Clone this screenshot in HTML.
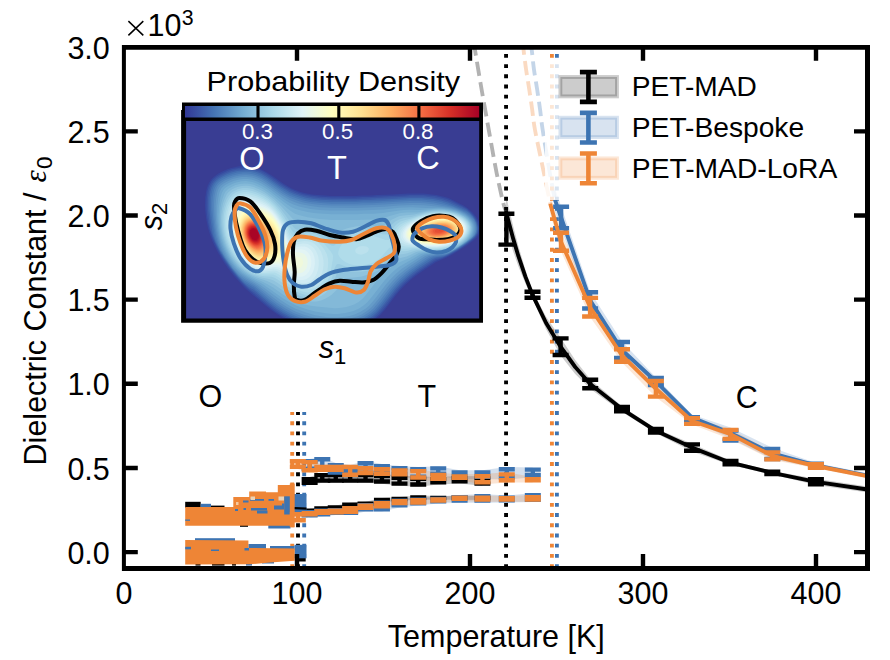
<!DOCTYPE html>
<html><head><meta charset="utf-8"><title>Dielectric constant</title>
<style>
html,body{margin:0;padding:0;background:#fff;}
body{width:890px;height:660px;overflow:hidden;font-family:"Liberation Sans", sans-serif;}
svg{display:block;}
text{font-family:"Liberation Sans", sans-serif;}
</style></head><body>
<svg width="890" height="660" viewBox="0 0 890 660">
<rect x="0" y="0" width="890" height="660" fill="#ffffff"/>
<defs><clipPath id="axclip"><rect x="124.0" y="47.3" width="743.5" height="521.3000000000001"/></clipPath></defs>
<g clip-path="url(#axclip)">
<path d="M505.9 210.7C505.47 209.47 504.83 209.53 503.3 203.3C501.77 197.07 498.92 184.4 496.7 173.3C494.48 162.2 492.5 150.58 490 136.7C487.5 122.82 484.2 104.45 481.7 90C479.2 75.55 476.45 59 475 50C473.55 41 473.33 38.33 473 36" stroke="#000" stroke-opacity="0.3" stroke-width="3.86" fill="none" stroke-dasharray="14.3 6.2" stroke-dashoffset="6.1"/>
<path d="M554.9 199.6C553.97 194.67 551.33 181.6 549.3 170C547.27 158.4 544.25 140.17 542.7 130C541.15 119.83 540.95 115.92 540 109C539.05 102.08 538.02 95.17 537 88.5C535.98 81.83 534.77 75.37 533.9 69C533.03 62.63 532.4 55.47 531.8 50.3C531.2 45.13 530.55 40.05 530.3 38" stroke="#3d74b2" stroke-opacity="0.3" stroke-width="3.86" fill="none" stroke-dasharray="14.3 6.2" stroke-dashoffset="-2.7"/>
<path d="M550.2 203.8C549.05 198.17 545.83 182.3 543.3 170C540.77 157.7 536.87 140.17 535 130C533.13 119.83 533.08 115.92 532.1 109C531.12 102.08 530.12 95.17 529.1 88.5C528.08 81.83 526.92 75.37 526 69C525.08 62.63 524.27 55.47 523.6 50.3C522.93 45.13 522.27 40.05 522 38" stroke="#ee8536" stroke-opacity="0.3" stroke-width="3.86" fill="none" stroke-dasharray="14.3 6.2" stroke-dashoffset="-7.7"/>
<path d="M506.06 568V40" stroke="#000000" stroke-width="3.86" stroke-dasharray="3.86 6.344" fill="none"/>
<path d="M556.9 568V40" stroke="#3d74b2" stroke-width="3.86" stroke-dasharray="3.86 6.344" fill="none"/>
<path d="M551.9 568V40" stroke="#ee8536" stroke-width="3.86" stroke-dasharray="3.86 6.344" fill="none"/>
<path d="M298 568V411.9" stroke="#000000" stroke-width="3.86" stroke-dasharray="3.86 6.344" fill="none"/>
<path d="M304.2 568V411.9" stroke="#3d74b2" stroke-width="3.86" stroke-dasharray="3.86 6.344" fill="none"/>
<path d="M292.2 568V411.9" stroke="#ee8536" stroke-width="3.86" stroke-dasharray="3.86 6.344" fill="none"/>
<polygon points="505.9,194.7 508.9,207.89 513.25,226.15 518.4,245.9 525.4,269.63 532.5,291.2 546.1,316.83 560.6,337.8 575.2,360.12 590.2,379.2 622,406.3 655.9,428.4 692,443.8 730.5,460.4 772.3,471 815.9,478.7 867.5,486.4 867.5,492.6 815.9,484.9 772.3,474.6 730.5,465 692,451.4 655.9,433.2 622,411.9 590.2,388.8 575.2,373.88 560.6,355.6 546.1,329.17 532.5,298.4 525.4,283.57 518.4,266.5 513.25,251.65 508.9,237.51 505.9,226.7" fill="#000000" fill-opacity="0.2"/>
<polygon points="554.9,188.3 561.1,206.2 590.1,291.7 622,341.4 655.9,377.4 692,414.4 730.5,427.4 772.3,447.8 815.9,463 867.5,473.2 867.5,478 815.9,467.8 772.3,459 730.5,438.6 692,420.6 655.9,385.6 622,358.6 590.1,309.1 561.1,228.8 554.9,210.9" fill="#3d74b2" fill-opacity="0.2"/>
<polygon points="550.2,194.2 561,232.1 590.1,297.3 622,348.6 655.9,380.4 692,417.5 730.5,429 772.3,451.8 815.9,463.7 867.5,473.9 867.5,478.5 815.9,468.3 772.3,460 730.5,439.2 692,424.5 655.9,397.2 622,362.4 590.1,317.1 561,251.3 550.2,213.4" fill="#ee8536" fill-opacity="0.2"/>
<polygon points="309.64,477 322.27,472.9 335.75,472.9 350.15,472.9 365.53,472.9 381.95,473.8 399.49,475.7 418.22,476.6 438.23,477 459.6,476 482.42,476.2 482.42,485.7 459.6,483.4 438.23,484.4 418.22,486.7 399.49,485.8 381.95,483.7 365.53,482.8 350.15,482.8 335.75,482.8 322.27,482.8 309.64,485" fill="#000000" fill-opacity="0.22"/>
<polygon points="309.64,508.7 322.27,506.5 335.75,505.5 350.15,502.8 365.53,501.7 381.95,498 399.49,497 418.22,495.5 438.23,496 459.6,495.8 482.42,496 482.42,500 459.6,499.7 438.23,499.8 418.22,499.5 399.49,501 381.95,502 365.53,505.5 350.15,506.8 335.75,509.5 322.27,510.5 309.64,512.5" fill="#000000" fill-opacity="0.22"/>
<polygon points="309.64,459 322.27,457 335.75,463 350.15,465 365.53,461 381.95,463.9 399.49,466 418.22,467.1 438.23,466.2 459.6,470.2 482.42,470.2 506.79,467.1 532.82,467.4 532.82,477.2 506.79,479.6 482.42,479 459.6,479 438.23,476 418.22,479 399.49,476 381.95,475.5 365.53,475 350.15,473.6 335.75,474.7 322.27,471 309.64,471" fill="#3d74b2" fill-opacity="0.22"/>
<polygon points="309.64,510 322.27,508.5 335.75,508 350.15,506 365.53,503 381.95,500.5 399.49,498.5 418.22,497.5 438.23,496.8 459.6,495 482.42,494 506.79,495.5 532.82,493 532.82,502 506.79,502.5 482.42,502.7 459.6,502.7 438.23,503.6 418.22,505.5 399.49,507.6 381.95,511.6 365.53,511.6 350.15,515 335.75,515 322.27,516.5 309.64,517.5" fill="#3d74b2" fill-opacity="0.22"/>
<polygon points="297.82,459 309.64,459.9 322.27,464.8 335.75,464.8 350.15,464.8 365.53,466 381.95,467.1 399.49,468.2 418.22,468.9 438.23,472.7 459.6,474.3 482.42,474 506.79,472.2 532.82,477 532.82,482.6 506.79,482.4 482.42,484.4 459.6,479.9 438.23,481 418.22,479.7 399.49,476.5 381.95,476.1 365.53,475.2 350.15,477 335.75,472 322.27,472 309.64,472.5 297.82,468.9" fill="#ee8536" fill-opacity="0.22"/>
<polygon points="297.82,512 309.64,511 322.27,509 335.75,508.5 350.15,506 365.53,503.6 381.95,501 399.49,498.9 418.22,498 438.23,497.3 459.6,495.5 482.42,495.5 506.79,496 532.82,495 532.82,501.8 506.79,501.8 482.42,501.8 459.6,501 438.23,502.7 418.22,504.7 399.49,505.2 381.95,508.4 365.53,510 350.15,514 335.75,514.5 322.27,515 309.64,516.4 297.82,522.5" fill="#ee8536" fill-opacity="0.22"/>
<rect x="185.2" y="501.8" width="15.5" height="6.2" fill="#000000"/>
<rect x="211" y="505.6" width="13.5" height="3.4" fill="#000000"/>
<rect x="295.3" y="556.7" width="10.4" height="4.8" fill="#000000"/>
<rect x="195.5" y="562.5" width="5" height="3.1" fill="#000000"/>
<rect x="212" y="562.5" width="12.5" height="3.1" fill="#000000"/>
<rect x="232" y="562.5" width="4" height="3.1" fill="#000000"/>
<rect x="240" y="523" width="8" height="3.8" fill="#000000"/>
<g stroke="#000000" stroke-width="4.4" fill="none"><path d="M309.64 479.2V482.8"/><path d="M301.64 479.2H317.64M301.64 482.8H317.64"/></g>
<g stroke="#000000" stroke-width="4.4" fill="none"><path d="M322.27 475.1V480.6"/><path d="M314.27 475.1H330.27M314.27 480.6H330.27"/></g>
<g stroke="#000000" stroke-width="4.4" fill="none"><path d="M335.75 475.1V480.6"/><path d="M327.75 475.1H343.75M327.75 480.6H343.75"/></g>
<g stroke="#000000" stroke-width="4.4" fill="none"><path d="M350.15 475.1V480.6"/><path d="M342.15 475.1H358.15M342.15 480.6H358.15"/></g>
<g stroke="#000000" stroke-width="4.4" fill="none"><path d="M365.53 475.1V480.6"/><path d="M357.53 475.1H373.53M357.53 480.6H373.53"/></g>
<g stroke="#000000" stroke-width="4.4" fill="none"><path d="M381.95 476V481.5"/><path d="M373.95 476H389.95M373.95 481.5H389.95"/></g>
<g stroke="#000000" stroke-width="4.4" fill="none"><path d="M399.49 477.9V483.6"/><path d="M391.49 477.9H407.49M391.49 483.6H407.49"/></g>
<g stroke="#000000" stroke-width="4.4" fill="none"><path d="M418.22 478.8V484.5"/><path d="M410.22 478.8H426.22M410.22 484.5H426.22"/></g>
<g stroke="#000000" stroke-width="4.4" fill="none"><path d="M438.23 479.2V482.2"/><path d="M430.23 479.2H446.23M430.23 482.2H446.23"/></g>
<g stroke="#000000" stroke-width="4.4" fill="none"><path d="M459.6 478.2V481.2"/><path d="M451.6 478.2H467.6M451.6 481.2H467.6"/></g>
<g stroke="#000000" stroke-width="4.4" fill="none"><path d="M482.42 478.4V483.5"/><path d="M474.42 478.4H490.42M474.42 483.5H490.42"/></g>
<g stroke="#000000" stroke-width="4.4" fill="none"><path d="M301.64 510.6H317.64M301.64 510.6H317.64"/></g>
<g stroke="#000000" stroke-width="4.4" fill="none"><path d="M314.27 508.5H330.27M314.27 508.5H330.27"/></g>
<g stroke="#000000" stroke-width="4.4" fill="none"><path d="M327.75 507.5H343.75M327.75 507.5H343.75"/></g>
<g stroke="#000000" stroke-width="4.4" fill="none"><path d="M342.15 504.8H358.15M342.15 504.8H358.15"/></g>
<g stroke="#000000" stroke-width="4.4" fill="none"><path d="M357.53 503.6H373.53M357.53 503.6H373.53"/></g>
<g stroke="#000000" stroke-width="4.4" fill="none"><path d="M373.95 500H389.95M373.95 500H389.95"/></g>
<g stroke="#000000" stroke-width="4.4" fill="none"><path d="M391.49 499H407.49M391.49 499H407.49"/></g>
<g stroke="#000000" stroke-width="4.4" fill="none"><path d="M410.22 497.5H426.22M410.22 497.5H426.22"/></g>
<g stroke="#000000" stroke-width="4.4" fill="none"><path d="M430.23 497.9H446.23M430.23 497.9H446.23"/></g>
<g stroke="#000000" stroke-width="4.4" fill="none"><path d="M451.6 497.75H467.6M451.6 497.75H467.6"/></g>
<g stroke="#000000" stroke-width="4.4" fill="none"><path d="M474.42 498H490.42M474.42 498H490.42"/></g>
<rect x="200.7" y="503.8" width="10.3" height="3.7" fill="#3d74b2"/>
<rect x="195" y="538.2" width="40" height="3.3" fill="#3d74b2"/>
<rect x="248.4" y="544" width="17.6" height="5" fill="#3d74b2"/>
<rect x="270" y="546" width="24.5" height="4" fill="#3d74b2"/>
<rect x="294.5" y="544.8" width="12" height="13.5" fill="#3d74b2"/>
<rect x="268.3" y="523.5" width="22.2" height="5" fill="#3d74b2"/>
<rect x="284.2" y="494" width="22.3" height="20.5" fill="#3d74b2"/>
<rect x="246" y="563" width="6" height="2.6" fill="#3d74b2"/>
<rect x="262" y="561.5" width="12" height="2" fill="#3d74b2"/>
<g stroke="#3d74b2" stroke-width="4.4" fill="none"><path d="M309.64 461.2V468.8"/><path d="M301.64 461.2H317.64M301.64 468.8H317.64"/></g>
<g stroke="#3d74b2" stroke-width="4.4" fill="none"><path d="M322.27 459.2V468.8"/><path d="M314.27 459.2H330.27M314.27 468.8H330.27"/></g>
<g stroke="#3d74b2" stroke-width="4.4" fill="none"><path d="M335.75 465.2V472.5"/><path d="M327.75 465.2H343.75M327.75 472.5H343.75"/></g>
<g stroke="#3d74b2" stroke-width="4.4" fill="none"><path d="M350.15 467.2V471.4"/><path d="M342.15 467.2H358.15M342.15 471.4H358.15"/></g>
<g stroke="#3d74b2" stroke-width="4.4" fill="none"><path d="M365.53 463.2V472.8"/><path d="M357.53 463.2H373.53M357.53 472.8H373.53"/></g>
<g stroke="#3d74b2" stroke-width="4.4" fill="none"><path d="M381.95 466.1V473.3"/><path d="M373.95 466.1H389.95M373.95 473.3H389.95"/></g>
<g stroke="#3d74b2" stroke-width="4.4" fill="none"><path d="M399.49 468.2V473.8"/><path d="M391.49 468.2H407.49M391.49 473.8H407.49"/></g>
<g stroke="#3d74b2" stroke-width="4.4" fill="none"><path d="M418.22 469.3V476.8"/><path d="M410.22 469.3H426.22M410.22 476.8H426.22"/></g>
<g stroke="#3d74b2" stroke-width="4.4" fill="none"><path d="M438.23 468.4V473.8"/><path d="M430.23 468.4H446.23M430.23 473.8H446.23"/></g>
<g stroke="#3d74b2" stroke-width="4.4" fill="none"><path d="M459.6 472.4V476.8"/><path d="M451.6 472.4H467.6M451.6 476.8H467.6"/></g>
<g stroke="#3d74b2" stroke-width="4.4" fill="none"><path d="M482.42 472.4V476.8"/><path d="M474.42 472.4H490.42M474.42 476.8H490.42"/></g>
<g stroke="#3d74b2" stroke-width="4.4" fill="none"><path d="M506.79 469.3V477.4"/><path d="M498.79 469.3H514.79M498.79 477.4H514.79"/></g>
<g stroke="#3d74b2" stroke-width="4.4" fill="none"><path d="M532.82 469.6V475"/><path d="M524.82 469.6H540.82M524.82 475H540.82"/></g>
<g stroke="#3d74b2" stroke-width="4.4" fill="none"><path d="M309.64 512.2V515.3"/><path d="M301.64 512.2H317.64M301.64 515.3H317.64"/></g>
<g stroke="#3d74b2" stroke-width="4.4" fill="none"><path d="M322.27 510.7V514.3"/><path d="M314.27 510.7H330.27M314.27 514.3H330.27"/></g>
<g stroke="#3d74b2" stroke-width="4.4" fill="none"><path d="M335.75 510.2V512.8"/><path d="M327.75 510.2H343.75M327.75 512.8H343.75"/></g>
<g stroke="#3d74b2" stroke-width="4.4" fill="none"><path d="M350.15 508.2V512.8"/><path d="M342.15 508.2H358.15M342.15 512.8H358.15"/></g>
<g stroke="#3d74b2" stroke-width="4.4" fill="none"><path d="M365.53 505.2V509.4"/><path d="M357.53 505.2H373.53M357.53 509.4H373.53"/></g>
<g stroke="#3d74b2" stroke-width="4.4" fill="none"><path d="M381.95 502.7V509.4"/><path d="M373.95 502.7H389.95M373.95 509.4H389.95"/></g>
<g stroke="#3d74b2" stroke-width="4.4" fill="none"><path d="M399.49 500.7V505.4"/><path d="M391.49 500.7H407.49M391.49 505.4H407.49"/></g>
<g stroke="#3d74b2" stroke-width="4.4" fill="none"><path d="M418.22 499.7V503.3"/><path d="M410.22 499.7H426.22M410.22 503.3H426.22"/></g>
<g stroke="#3d74b2" stroke-width="4.4" fill="none"><path d="M438.23 499V501.4"/><path d="M430.23 499H446.23M430.23 501.4H446.23"/></g>
<g stroke="#3d74b2" stroke-width="4.4" fill="none"><path d="M459.6 497.2V500.5"/><path d="M451.6 497.2H467.6M451.6 500.5H467.6"/></g>
<g stroke="#3d74b2" stroke-width="4.4" fill="none"><path d="M482.42 496.2V500.5"/><path d="M474.42 496.2H490.42M474.42 500.5H490.42"/></g>
<g stroke="#3d74b2" stroke-width="4.4" fill="none"><path d="M506.79 497.7V500.3"/><path d="M498.79 497.7H514.79M498.79 500.3H514.79"/></g>
<g stroke="#3d74b2" stroke-width="4.4" fill="none"><path d="M532.82 495.2V499.8"/><path d="M524.82 495.2H540.82M524.82 499.8H540.82"/></g>
<polygon points="185.2,506.9 233.3,506.9 233.3,497 249.2,497 249.2,491.5 266,491.5 266,492.3 277.8,492.3 277.8,485.1 289.8,485.1 289.8,483.5 294.7,483.5 294.7,527.3 289.8,527.3 289.8,525.7 185.2,525.7" fill="#ee8536"/>
<polygon points="185.2,540 248.4,540.6 248.4,548 294.7,548.5 294.7,560.7 270,562.5 250,564.3 185.2,564.6" fill="#ee8536"/>
<rect x="185.2" y="546.8" width="5.8" height="2.5" fill="#3d74b2"/>
<rect x="244.5" y="548" width="4.5" height="2.5" fill="#3d74b2"/>
<rect x="211" y="549.5" width="8" height="1.5" fill="#3d74b2"/>
<rect x="243" y="500.5" width="5.5" height="2" fill="#3d74b2"/>
<rect x="250" y="499" width="14" height="1.8" fill="#3d74b2"/>
<rect x="268.5" y="499" width="5.5" height="1.8" fill="#3d74b2"/>
<rect x="235" y="509" width="3" height="2" fill="#3d74b2"/>
<rect x="243.5" y="508" width="2.5" height="2" fill="#3d74b2"/>
<rect x="251" y="508" width="16" height="2.5" fill="#3d74b2"/>
<rect x="257" y="510.5" width="10.5" height="3" fill="#3d74b2"/>
<rect x="274" y="505.5" width="10.2" height="4" fill="#3d74b2"/>
<rect x="185.2" y="519.5" width="4.8" height="1.3" fill="#3d74b2"/>
<rect x="250.5" y="496.5" width="4.5" height="3.5" fill="#e9d3b8"/>
<rect x="278.5" y="496.5" width="5.5" height="4" fill="#e9d3b8"/>
<rect x="236" y="502" width="2.5" height="3" fill="#f3c9a0"/>
<rect x="284.2" y="496.3" width="5.6" height="18.2" fill="#3d74b2"/>
<rect x="282" y="503.5" width="2.2" height="2.5" fill="#3d74b2"/>
<g stroke="#ee8536" stroke-width="4.4" fill="none"><path d="M297.82 461.2V466.7"/><path d="M289.82 461.2H305.82M289.82 466.7H305.82"/></g>
<g stroke="#ee8536" stroke-width="4.4" fill="none"><path d="M309.64 462.1V470.3"/><path d="M301.64 462.1H317.64M301.64 470.3H317.64"/></g>
<g stroke="#ee8536" stroke-width="4.4" fill="none"><path d="M322.27 467V469.8"/><path d="M314.27 467H330.27M314.27 469.8H330.27"/></g>
<g stroke="#ee8536" stroke-width="4.4" fill="none"><path d="M335.75 467V469.8"/><path d="M327.75 467H343.75M327.75 469.8H343.75"/></g>
<g stroke="#ee8536" stroke-width="4.4" fill="none"><path d="M350.15 467V474.8"/><path d="M342.15 467H358.15M342.15 474.8H358.15"/></g>
<g stroke="#ee8536" stroke-width="4.4" fill="none"><path d="M365.53 468.2V473"/><path d="M357.53 468.2H373.53M357.53 473H373.53"/></g>
<g stroke="#ee8536" stroke-width="4.4" fill="none"><path d="M381.95 469.3V473.9"/><path d="M373.95 469.3H389.95M373.95 473.9H389.95"/></g>
<g stroke="#ee8536" stroke-width="4.4" fill="none"><path d="M399.49 470.4V474.3"/><path d="M391.49 470.4H407.49M391.49 474.3H407.49"/></g>
<g stroke="#ee8536" stroke-width="4.4" fill="none"><path d="M418.22 471.1V477.5"/><path d="M410.22 471.1H426.22M410.22 477.5H426.22"/></g>
<g stroke="#ee8536" stroke-width="4.4" fill="none"><path d="M438.23 474.9V478.8"/><path d="M430.23 474.9H446.23M430.23 478.8H446.23"/></g>
<g stroke="#ee8536" stroke-width="4.4" fill="none"><path d="M459.6 476.5V477.7"/><path d="M451.6 476.5H467.6M451.6 477.7H467.6"/></g>
<g stroke="#ee8536" stroke-width="4.4" fill="none"><path d="M482.42 476.2V482.2"/><path d="M474.42 476.2H490.42M474.42 482.2H490.42"/></g>
<g stroke="#ee8536" stroke-width="4.4" fill="none"><path d="M506.79 474.4V480.2"/><path d="M498.79 474.4H514.79M498.79 480.2H514.79"/></g>
<g stroke="#ee8536" stroke-width="4.4" fill="none"><path d="M532.82 479.2V480.4"/><path d="M524.82 479.2H540.82M524.82 480.4H540.82"/></g>
<g stroke="#ee8536" stroke-width="4.4" fill="none"><path d="M297.82 514.2V520.3"/><path d="M289.82 514.2H305.82M289.82 520.3H305.82"/></g>
<g stroke="#ee8536" stroke-width="4.4" fill="none"><path d="M309.64 513.2V514.2"/><path d="M301.64 513.2H317.64M301.64 514.2H317.64"/></g>
<g stroke="#ee8536" stroke-width="4.4" fill="none"><path d="M322.27 511.2V512.8"/><path d="M314.27 511.2H330.27M314.27 512.8H330.27"/></g>
<g stroke="#ee8536" stroke-width="4.4" fill="none"><path d="M335.75 510.7V512.3"/><path d="M327.75 510.7H343.75M327.75 512.3H343.75"/></g>
<g stroke="#ee8536" stroke-width="4.4" fill="none"><path d="M350.15 508.2V511.8"/><path d="M342.15 508.2H358.15M342.15 511.8H358.15"/></g>
<g stroke="#ee8536" stroke-width="4.4" fill="none"><path d="M365.53 505.8V507.8"/><path d="M357.53 505.8H373.53M357.53 507.8H373.53"/></g>
<g stroke="#ee8536" stroke-width="4.4" fill="none"><path d="M381.95 503.2V506.2"/><path d="M373.95 503.2H389.95M373.95 506.2H389.95"/></g>
<g stroke="#ee8536" stroke-width="4.4" fill="none"><path d="M399.49 501.1V503"/><path d="M391.49 501.1H407.49M391.49 503H407.49"/></g>
<g stroke="#ee8536" stroke-width="4.4" fill="none"><path d="M418.22 500.2V502.5"/><path d="M410.22 500.2H426.22M410.22 502.5H426.22"/></g>
<g stroke="#ee8536" stroke-width="4.4" fill="none"><path d="M438.23 499.5V500.5"/><path d="M430.23 499.5H446.23M430.23 500.5H446.23"/></g>
<g stroke="#ee8536" stroke-width="4.4" fill="none"><path d="M459.6 497.7V498.8"/><path d="M451.6 497.7H467.6M451.6 498.8H467.6"/></g>
<g stroke="#ee8536" stroke-width="4.4" fill="none"><path d="M482.42 497.7V499.6"/><path d="M474.42 497.7H490.42M474.42 499.6H490.42"/></g>
<g stroke="#ee8536" stroke-width="4.4" fill="none"><path d="M506.79 498.2V499.6"/><path d="M498.79 498.2H514.79M498.79 499.6H514.79"/></g>
<g stroke="#ee8536" stroke-width="4.4" fill="none"><path d="M532.82 497.2V499.6"/><path d="M524.82 497.2H540.82M524.82 499.6H540.82"/></g>
<path d="M294.7 508.2L306.5 508.6" stroke="#000" stroke-width="2.2" fill="none"/>
<polyline points="505.9,210.7 508.9,222.7 513.25,238.9 518.4,256.2 525.4,276.6 532.5,294.8 546.1,323 560.6,346.7 575.2,367 590.2,384 622,409.1 655.9,430.8 692,447.6 730.5,462.7 772.3,472.8 815.9,481.8 867.5,489.5" stroke="#000000" stroke-width="3.86" fill="none" stroke-linejoin="round"/>
<g stroke="#000000" stroke-width="4.4" fill="none"><path d="M506.4 213.8V244.6"/><path d="M498.4 213.8H514.4M498.4 244.6H514.4"/></g>
<g stroke="#000000" stroke-width="4.4" fill="none"><path d="M532.5 291.8V297.8"/><path d="M524.5 291.8H540.5M524.5 297.8H540.5"/></g>
<g stroke="#000000" stroke-width="4.4" fill="none"><path d="M560.6 338.4V355"/><path d="M552.6 338.4H568.6M552.6 355H568.6"/></g>
<g stroke="#000000" stroke-width="4.4" fill="none"><path d="M590.2 379.8V388.2"/><path d="M582.2 379.8H598.2M582.2 388.2H598.2"/></g>
<g stroke="#000000" stroke-width="4.4" fill="none"><path d="M622 406.9V411.3"/><path d="M614 406.9H630M614 411.3H630"/></g>
<g stroke="#000000" stroke-width="4.4" fill="none"><path d="M655.9 429V432.6"/><path d="M647.9 429H663.9M647.9 432.6H663.9"/></g>
<g stroke="#000000" stroke-width="4.4" fill="none"><path d="M692 444.4V450.8"/><path d="M684 444.4H700M684 450.8H700"/></g>
<g stroke="#000000" stroke-width="4.4" fill="none"><path d="M730.5 461V464.4"/><path d="M722.5 461H738.5M722.5 464.4H738.5"/></g>
<g stroke="#000000" stroke-width="4.4" fill="none"><path d="M772.3 471.6V474"/><path d="M764.3 471.6H780.3M764.3 474H780.3"/></g>
<g stroke="#000000" stroke-width="4.4" fill="none"><path d="M815.9 479.3V484.3"/><path d="M807.9 479.3H823.9M807.9 484.3H823.9"/></g>
<polyline points="554.9,199.6 561.1,217.5 590.1,300.4 622,350 655.9,381.5 692,417.5 730.5,433 772.3,453.4 815.9,465.4 867.5,475.6" stroke="#3d74b2" stroke-width="3.86" fill="none" stroke-linejoin="round"/>
<g stroke="#3d74b2" stroke-width="4.4" fill="none"><path d="M561.1 206.8V228.2"/><path d="M553.1 206.8H569.1M553.1 228.2H569.1"/></g>
<g stroke="#3d74b2" stroke-width="4.4" fill="none"><path d="M590.1 292.3V308.5"/><path d="M582.1 292.3H598.1M582.1 308.5H598.1"/></g>
<g stroke="#3d74b2" stroke-width="4.4" fill="none"><path d="M622 342V358"/><path d="M614 342H630M614 358H630"/></g>
<g stroke="#3d74b2" stroke-width="4.4" fill="none"><path d="M655.9 378V385"/><path d="M647.9 378H663.9M647.9 385H663.9"/></g>
<g stroke="#3d74b2" stroke-width="4.4" fill="none"><path d="M692 417.3V422.3"/><path d="M684 417.3H700M684 422.3H700"/></g>
<g stroke="#3d74b2" stroke-width="4.4" fill="none"><path d="M730.5 430.5V440.5"/><path d="M722.5 430.5H738.5M722.5 440.5H738.5"/></g>
<g stroke="#3d74b2" stroke-width="4.4" fill="none"><path d="M772.3 449V459"/><path d="M764.3 449H780.3M764.3 459H780.3"/></g>
<g stroke="#3d74b2" stroke-width="4.4" fill="none"><path d="M815.9 463.7V467.3"/><path d="M807.9 463.7H823.9M807.9 467.3H823.9"/></g>
<polyline points="550.2,203.8 561,241.7 590.1,307.2 622,355.5 655.9,388.8 692,421 730.5,434.1 772.3,455.9 815.9,466 867.5,476.2" stroke="#ee8536" stroke-width="3.86" fill="none" stroke-linejoin="round"/>
<g stroke="#ee8536" stroke-width="4.4" fill="none"><path d="M561 232.7V250.7"/><path d="M553 232.7H569M553 250.7H569"/></g>
<g stroke="#ee8536" stroke-width="4.4" fill="none"><path d="M590.1 297.9V316.5"/><path d="M582.1 297.9H598.1M582.1 316.5H598.1"/></g>
<g stroke="#ee8536" stroke-width="4.4" fill="none"><path d="M622 349.2V361.8"/><path d="M614 349.2H630M614 361.8H630"/></g>
<g stroke="#ee8536" stroke-width="4.4" fill="none"><path d="M655.9 381V396.6"/><path d="M647.9 381H663.9M647.9 396.6H663.9"/></g>
<g stroke="#ee8536" stroke-width="4.4" fill="none"><path d="M692 418.1V423.9"/><path d="M684 418.1H700M684 423.9H700"/></g>
<g stroke="#ee8536" stroke-width="4.4" fill="none"><path d="M730.5 429.9V438.9"/><path d="M722.5 429.9H738.5M722.5 438.9H738.5"/></g>
<g stroke="#ee8536" stroke-width="4.4" fill="none"><path d="M772.3 452.4V459.4"/><path d="M764.3 452.4H780.3M764.3 459.4H780.3"/></g>
<g stroke="#ee8536" stroke-width="4.4" fill="none"><path d="M815.9 464.3V467.7"/><path d="M807.9 464.3H823.9M807.9 467.7H823.9"/></g>
</g>
<rect x="545" y="61" width="303" height="139" fill="#fff" fill-opacity="0.8"/>
<rect x="560.4" y="77" width="56.6" height="19.4" fill="#000000" fill-opacity="0.2" stroke="#000000" stroke-opacity="0.2" stroke-width="3.86"/>
<g stroke="#000000" stroke-width="4.6" fill="none"><path d="M588.4 72.15V101.85"/><path d="M579.9 72.15H596.9M579.9 101.85H596.9"/></g>
<text x="631.8" y="96.4" font-size="28" textLength="125.0" lengthAdjust="spacingAndGlyphs" fill="#000">PET-MAD</text>
<rect x="560.4" y="117.7" width="56.6" height="19.4" fill="#3d74b2" fill-opacity="0.2" stroke="#3d74b2" stroke-opacity="0.2" stroke-width="3.86"/>
<g stroke="#3d74b2" stroke-width="4.6" fill="none"><path d="M588.4 112.85V142.55"/><path d="M579.9 112.85H596.9M579.9 142.55H596.9"/></g>
<text x="631.8" y="137.1" font-size="28" textLength="172.3" lengthAdjust="spacingAndGlyphs" fill="#000">PET-Bespoke</text>
<rect x="560.4" y="158.4" width="56.6" height="19.4" fill="#ee8536" fill-opacity="0.2" stroke="#ee8536" stroke-opacity="0.2" stroke-width="3.86"/>
<g stroke="#ee8536" stroke-width="4.6" fill="none"><path d="M588.4 153.55V183.25"/><path d="M579.9 153.55H596.9M579.9 183.25H596.9"/></g>
<text x="631.8" y="177.8" font-size="28" textLength="205.5" lengthAdjust="spacingAndGlyphs" fill="#000">PET-MAD-LoRA</text>
<path d="M297 567V554M297 49V60.8M470 567V554M470 49V60.8M643 567V554M643 49V60.8M816 567V554M816 49V60.8M125 552.1H137.8M866 552.1H854M125 467.95H137.8M866 467.95H854M125 383.8H137.8M866 383.8H854M125 299.65H137.8M866 299.65H854M125 215.5H137.8M866 215.5H854M125 131.35H137.8M866 131.35H854" stroke="#000" stroke-width="4.4" fill="none"/>
<path d="M121.9 44.9H870V570.9H121.9ZM125.9 49.8V566H865V49.8Z" fill="#000" fill-rule="evenodd"/>
<defs><clipPath id="inclip"><rect x="186.1" y="120.9" width="293.1" height="197.70000000000002"/></clipPath></defs>
<rect x="185.1" y="119.9" width="295.1" height="199.70000000000002" fill="#393d93"/>
<g clip-path="url(#inclip)">
<path d="M233.6 167.4L238.6 166.3L246.1 165.9L252.1 166.5L258.1 168.0L262.6 169.9L267.1 172.4L271.6 175.2L284.0 183.9L291.8 188.4L295.6 190.1L300.1 191.7L304.6 192.9L312.1 194.4L331.6 196.1L354.1 196.1L361.6 195.6L370.6 195.5L376.6 195.0L393.1 194.6L408.1 193.6L423.1 193.5L426.1 193.7L436.6 195.0L444.1 196.7L448.6 198.1L451.6 199.4L463.6 205.4L468.1 208.4L472.6 212.4L476.4 216.9L478.2 219.9L479.5 222.9L480.3 227.4L479.8 231.9L479.3 233.4L478.5 234.9L476.3 237.9L474.1 240.1L468.1 244.7L459.1 250.6L451.6 254.9L445.6 257.9L436.1 261.9L420.4 272.4L412.6 278.3L404.1 285.9L399.1 291.4L396.1 295.0L384.8 309.9L379.6 315.7L375.1 319.7L370.6 322.8L367.0 324.9L297.7 324.9L295.6 324.2L288.1 320.8L280.6 316.5L276.1 313.6L270.1 309.3L264.1 304.5L256.6 297.9L252.1 294.5L244.6 287.7L234.8 276.9L228.9 269.4L225.7 264.9L222.7 260.4L218.2 252.9L215.1 246.9L212.3 240.9L209.6 233.4L207.8 227.4L206.1 218.4L205.1 209.4L205.0 204.9L205.2 197.4L206.4 189.9L207.7 185.4L209.2 182.4L211.2 179.4L213.1 177.5L217.6 174.1L220.6 172.3L226.6 169.5L231.1 167.9L233.6 167.4Z" fill="#36479e" fill-rule="evenodd"/>
<path d="M241.5 167.4L246.1 167.2L250.6 167.6L256.6 168.9L261.1 170.6L264.1 172.0L268.6 174.8L283.6 185.2L291.1 189.5L298.6 192.6L303.1 193.9L310.6 195.5L321.1 196.8L331.6 197.3L354.1 197.4L363.1 197.0L370.6 196.9L376.6 196.4L403.6 195.4L409.6 194.9L423.1 194.9L435.1 196.1L442.6 197.7L447.1 199.1L451.6 200.8L462.1 205.9L466.6 208.6L471.1 212.4L475.0 216.9L476.8 219.9L478.1 222.9L479.1 227.4L478.9 230.4L478.5 231.9L478.1 233.4L477.2 234.9L474.9 237.9L472.6 240.0L466.6 244.6L457.6 250.5L448.6 255.4L442.6 258.2L438.1 259.7L435.1 261.0L421.6 270.0L415.6 274.3L411.1 277.9L403.6 284.5L398.3 290.4L393.4 296.4L385.6 306.9L379.2 314.4L374.0 318.9L367.1 323.4L364.1 324.9L301.3 324.9L289.6 320.1L282.1 315.9L275.1 311.4L267.1 305.3L249.1 290.0L244.6 285.8L239.0 279.9L235.2 275.4L230.4 269.4L224.1 260.4L221.3 255.9L217.1 248.4L212.4 237.9L209.5 228.9L208.1 222.9L207.0 215.4L206.5 209.4L206.5 200.4L206.8 195.9L207.4 191.4L208.6 186.9L209.2 185.4L211.6 181.0L213.1 179.2L216.1 176.7L220.6 173.9L228.1 170.4L232.6 169.0L241.5 167.4Z" fill="#3a54a4" fill-rule="evenodd"/>
<path d="M242.1 168.9L246.1 168.7L250.6 169.1L255.1 170.0L259.6 171.5L262.6 172.9L267.1 175.5L282.1 185.9L286.6 188.7L291.1 191.1L295.6 193.0L301.6 195.0L306.1 196.1L312.1 197.2L321.1 198.2L331.6 198.8L354.1 198.9L382.6 197.8L409.6 196.4L421.6 196.4L424.6 196.5L433.6 197.4L442.6 199.3L450.1 201.8L462.1 207.1L466.6 209.6L469.6 212.0L472.9 215.4L475.1 218.4L476.7 221.4L478.1 225.9L478.3 228.9L477.8 231.9L476.4 234.9L475.3 236.4L472.6 239.1L468.1 242.8L460.6 247.9L456.1 250.7L447.1 255.5L441.1 257.9L436.4 258.9L433.6 260.2L419.9 269.4L409.9 276.9L402.1 283.9L396.3 290.4L384.1 306.3L378.5 312.9L373.5 317.4L366.1 322.2L360.2 324.9L306.2 324.9L298.6 322.3L291.1 319.1L285.1 315.9L280.1 312.9L274.6 309.2L267.7 303.9L255.1 292.9L249.1 288.7L246.1 286.0L242.9 282.9L236.2 275.4L230.2 267.9L226.0 261.9L223.0 257.4L219.5 251.4L216.5 245.4L213.8 239.4L211.2 231.9L210.0 227.4L207.9 209.4L207.8 204.9L208.0 197.4L208.9 191.4L210.2 186.9L211.5 183.9L213.6 180.9L216.1 178.5L220.6 175.5L226.6 172.7L231.1 171.1L237.1 169.6L242.1 168.9Z" fill="#3e60aa" fill-rule="evenodd"/>
<path d="M241.8 170.4L246.1 170.2L250.6 170.6L255.1 171.6L259.6 173.1L262.6 174.5L267.1 177.2L280.6 186.7L289.6 192.0L294.1 194.1L300.1 196.1L306.1 197.7L312.1 198.8L321.1 199.8L331.6 200.3L355.6 200.4L363.1 199.9L370.6 199.9L376.6 199.5L382.6 199.4L409.6 197.9L421.6 197.9L433.0 198.9L441.1 200.5L448.6 202.8L462.1 208.4L466.6 210.7L469.6 212.9L473.4 216.9L476.0 221.4L477.4 225.9L477.7 228.9L477.5 230.4L476.6 233.4L474.6 236.4L473.2 237.9L466.6 243.3L460.6 247.4L457.6 249.3L450.1 253.4L444.1 256.3L441.1 257.0L436.6 257.6L433.0 258.9L418.6 268.5L409.6 275.2L401.0 282.9L395.5 288.9L382.9 305.4L377.8 311.4L372.9 315.9L366.1 320.5L361.6 322.7L355.5 324.9L311.8 324.9L310.6 324.6L303.1 322.3L294.3 318.9L289.6 316.7L283.0 312.9L276.1 308.4L268.6 302.7L253.6 289.7L249.1 287.2L246.1 285.0L243.1 282.2L238.2 276.9L232.1 269.4L228.8 264.9L224.7 258.9L221.0 252.9L218.6 248.4L215.7 242.4L213.0 234.9L212.1 230.4L210.4 218.4L209.4 209.4L209.3 204.9L209.5 197.4L210.4 191.4L211.6 187.3L213.2 183.9L215.6 180.9L219.1 178.2L222.1 176.4L226.6 174.3L231.1 172.6L237.1 171.1L241.8 170.4Z" fill="#436fb1" fill-rule="evenodd"/>
<path d="M241.9 171.9L246.1 171.7L250.6 172.1L255.1 173.1L259.6 174.7L262.6 176.2L267.1 178.9L280.6 188.5L285.1 191.3L289.6 193.8L294.1 195.8L300.1 197.8L304.6 199.0L310.6 200.2L321.1 201.4L331.6 201.9L355.6 202.0L363.1 201.5L370.6 201.5L382.6 201.0L409.6 199.5L421.6 199.5L432.1 200.4L441.1 202.1L448.6 204.4L460.6 208.9L466.6 211.8L469.6 213.8L472.7 216.9L474.7 219.9L476.1 222.9L477.1 227.4L477.1 228.9L476.6 231.9L476.0 233.4L475.2 234.9L474.0 236.4L471.1 239.2L466.6 242.8L457.6 248.8L448.6 253.8L444.1 255.6L435.1 256.9L432.1 257.8L429.1 259.5L420.1 265.6L409.6 273.2L400.6 281.0L394.7 287.4L391.0 291.9L381.1 305.0L375.6 311.4L370.6 315.6L364.6 319.5L361.6 320.9L357.1 322.7L348.9 324.9L319.7 324.9L312.1 323.3L304.6 321.1L297.1 318.3L291.1 315.7L283.6 311.5L276.7 306.9L268.8 300.9L253.6 287.8L244.6 282.6L237.1 274.8L230.4 266.4L224.3 257.4L219.9 249.9L217.6 245.0L216.1 241.3L215.0 237.9L213.8 231.9L212.0 219.9L210.9 209.4L210.8 203.4L211.0 197.4L211.7 192.9L212.8 188.4L214.1 185.4L216.1 182.6L219.1 180.1L222.1 178.1L226.6 175.9L231.1 174.2L237.1 172.6L241.9 171.9Z" fill="#4a7ab7" fill-rule="evenodd"/>
<path d="M242.9 173.4L247.6 173.4L252.1 174.0L255.6 174.9L259.5 176.4L267.1 180.7L280.6 190.3L285.1 193.2L289.6 195.7L294.1 197.6L300.1 199.6L304.6 200.8L310.6 201.9L321.1 203.1L331.6 203.7L355.6 203.7L363.1 203.3L372.1 203.2L384.1 202.6L409.6 201.1L421.6 201.2L433.6 202.4L442.6 204.2L453.1 207.1L460.6 209.9L465.7 212.4L470.0 215.4L472.6 217.9L474.1 219.8L475.6 223.1L476.4 227.4L476.4 228.9L476.0 231.9L474.7 234.9L471.1 238.7L465.1 243.4L456.1 249.3L448.6 253.3L445.6 254.4L433.6 256.1L429.5 257.4L417.1 265.7L409.6 271.1L406.0 273.9L400.6 278.7L396.4 282.9L391.2 288.9L381.0 302.4L374.7 309.9L369.3 314.4L364.6 317.5L358.6 320.3L352.6 322.3L346.6 323.5L339.1 324.4L331.6 324.5L325.6 324.0L321.1 323.4L312.1 321.5L303.3 318.9L295.7 315.9L291.1 313.8L284.3 309.9L277.6 305.5L270.1 299.9L255.1 287.1L243.1 279.8L238.6 275.7L232.1 267.9L224.8 257.4L221.5 251.4L220.5 249.9L220.1 248.4L219.2 246.9L218.1 243.9L216.0 236.4L214.3 227.4L213.2 218.4L212.3 207.9L212.3 201.9L212.8 195.9L214.1 189.9L215.2 186.9L217.2 183.9L219.1 182.1L223.1 179.4L228.1 177.0L232.6 175.4L238.6 173.9L242.9 173.4Z" fill="#5385bd" fill-rule="evenodd"/>
<path d="M235.1 176.4L240.1 175.4L246.1 175.0L252.1 175.8L256.6 177.0L261.1 179.1L265.6 181.7L282.1 193.4L289.6 197.7L294.1 199.6L300.1 201.6L304.6 202.7L312.1 204.1L321.1 205.0L331.6 205.6L355.6 205.6L363.1 205.2L372.1 205.1L384.1 204.5L399.1 203.4L409.6 203.0L420.1 203.0L424.6 203.3L433.6 204.3L448.6 207.0L456.1 209.1L462.1 211.5L466.6 214.0L470.3 216.9L473.0 219.9L474.0 221.4L475.3 224.4L475.7 227.4L475.6 230.4L475.4 231.9L474.2 234.9L471.1 238.3L465.1 243.1L456.1 249.0L448.6 252.9L442.6 254.2L432.1 255.4L429.1 256.0L426.2 257.4L424.6 258.5L408.8 269.4L404.9 272.4L399.1 277.4L395.2 281.4L389.9 287.4L379.6 301.0L373.4 308.4L368.1 312.9L363.1 316.1L357.1 318.8L352.1 320.4L346.6 321.6L339.1 322.5L333.1 322.6L325.6 322.0L321.1 321.4L313.6 319.9L304.6 317.3L293.6 312.9L285.1 308.2L276.4 302.4L270.1 297.6L256.1 285.9L244.6 279.0L238.6 274.4L232.6 267.9L231.8 266.4L229.6 263.7L226.6 259.2L223.7 254.4L221.0 248.4L218.5 240.9L216.9 234.9L215.5 227.4L214.5 218.4L213.9 207.9L214.1 200.4L214.6 195.9L215.5 191.4L216.5 188.4L217.6 186.3L219.1 184.5L221.6 182.4L225.1 180.3L230.5 177.9L235.1 176.4Z" fill="#5c90c2" fill-rule="evenodd"/>
<path d="M236.7 177.9L241.6 177.1L246.1 176.9L252.1 177.6L256.6 179.0L260.7 180.9L265.6 183.8L282.1 195.6L289.6 200.0L295.6 202.5L300.1 203.9L310.6 206.1L319.6 207.2L331.6 207.8L355.6 207.9L384.1 206.8L399.1 205.5L412.6 205.0L423.1 205.3L439.6 206.7L444.1 207.2L450.1 208.3L456.1 210.0L460.6 211.7L465.1 214.1L469.0 216.9L471.9 219.9L473.7 222.9L474.6 225.9L474.8 227.4L474.7 230.4L473.2 234.9L472.4 236.4L470.9 237.9L466.6 241.6L456.1 248.6L450.6 251.4L447.1 252.5L441.1 253.6L429.1 254.8L425.3 255.9L411.1 265.3L405.3 269.4L397.6 275.8L393.5 279.9L388.2 285.9L378.0 299.4L371.7 306.9L369.1 309.3L366.3 311.4L361.6 314.4L357.1 316.4L351.1 318.3L345.1 319.5L337.6 320.3L331.6 320.3L325.6 319.8L319.8 318.9L313.6 317.6L303.1 314.4L295.4 311.4L286.9 306.9L279.9 302.4L271.6 296.2L258.1 285.4L254.2 282.9L246.1 278.3L240.1 273.9L235.6 269.6L232.6 266.2L228.5 260.4L225.8 255.9L222.9 249.9L220.6 243.9L218.9 237.9L217.2 230.4L216.2 222.9L215.6 213.9L215.5 206.4L216.1 198.5L217.1 192.9L218.0 189.9L219.1 187.7L220.6 185.8L223.6 183.4L228.1 181.0L232.6 179.1L236.7 177.9Z" fill="#659bc8" fill-rule="evenodd"/>
<path d="M239.4 179.4L243.1 179.0L247.6 179.0L252.1 179.7L256.6 181.2L261.1 183.3L265.6 186.0L271.3 189.9L282.1 198.1L286.6 201.1L289.6 202.8L294.1 204.7L300.1 206.7L310.6 208.9L319.6 209.9L330.1 210.5L357.1 210.6L364.6 210.2L372.1 210.1L384.1 209.4L399.1 207.8L411.1 207.3L426.1 207.9L438.1 207.8L444.1 208.2L450.1 209.2L454.6 210.3L460.6 212.6L465.1 215.0L468.1 217.2L470.7 219.9L472.6 222.9L473.6 225.9L473.8 227.4L473.7 230.4L473.3 231.9L472.2 234.9L471.3 236.4L468.6 239.4L466.6 241.2L462.1 244.4L453.1 249.9L448.6 251.4L442.6 252.7L436.6 253.4L427.6 253.9L424.6 254.4L421.5 255.9L402.1 268.6L395.7 273.9L391.2 278.4L385.9 284.4L375.1 298.7L369.3 305.4L365.8 308.4L360.1 312.0L354.6 314.4L349.6 315.9L345.1 316.7L337.6 317.6L333.1 317.6L327.1 317.2L321.1 316.3L315.1 315.2L306.1 312.6L295.6 308.7L289.2 305.4L282.1 301.1L259.7 284.4L247.6 277.6L241.6 273.5L237.1 269.4L234.1 266.1L230.9 261.9L227.2 255.9L224.2 249.9L221.3 242.4L219.6 236.4L218.2 228.9L217.3 221.4L217.0 213.9L217.2 206.4L218.1 198.9L218.9 194.4L219.8 191.4L221.3 188.4L222.7 186.9L225.1 185.0L229.9 182.4L234.1 180.7L239.4 179.4Z" fill="#6ea6ce" fill-rule="evenodd"/>
<path d="M236.1 182.4L241.6 181.3L246.1 181.1L249.1 181.4L252.1 182.0L256.6 183.5L262.6 186.5L267.1 189.3L272.1 192.9L285.1 203.1L291.1 206.9L295.6 208.9L300.1 210.3L307.6 212.0L313.6 212.9L319.6 213.5L331.6 214.3L357.1 214.3L364.6 213.8L373.6 213.7L382.6 213.0L399.1 210.4L403.6 210.0L409.6 209.8L420.1 210.1L432.1 209.0L438.1 208.7L444.1 209.1L450.1 210.0L456.1 211.6L460.6 213.4L465.1 215.9L468.1 218.3L470.8 221.4L472.3 224.4L472.9 227.4L472.8 230.4L471.9 233.4L470.3 236.4L468.1 239.3L466.6 240.9L465.1 241.7L462.4 243.9L457.8 246.9L454.8 248.4L453.1 249.2L448.6 250.7L442.6 252.0L436.6 252.6L426.1 253.0L421.6 253.8L420.1 254.4L412.6 259.1L399.1 266.8L393.1 271.4L387.6 276.9L383.7 281.4L372.1 296.6L367.1 302.4L363.1 305.8L358.6 308.7L354.1 310.7L349.6 312.1L345.1 313.0L337.6 313.9L333.1 314.0L325.6 313.3L315.1 311.5L307.6 309.5L300.1 307.1L295.6 305.3L289.6 302.3L282.1 297.8L263.3 284.4L260.8 282.9L252.1 278.6L247.6 276.1L242.3 272.4L237.4 267.9L233.5 263.4L229.4 257.4L226.1 251.4L223.6 245.5L221.6 239.4L220.1 233.4L219.1 227.4L218.5 221.4L218.4 215.4L218.8 207.9L219.6 201.9L220.6 197.1L221.8 192.9L223.4 189.9L225.1 188.1L228.1 186.0L232.1 183.9L236.1 182.4Z" fill="#78b0d3" fill-rule="evenodd"/>
<path d="M239.6 183.9L244.6 183.4L249.1 183.7L253.6 184.8L259.6 187.3L264.1 189.7L270.1 193.8L276.5 198.9L288.1 209.1L292.6 212.3L295.6 213.9L298.6 215.1L307.6 217.3L319.6 219.1L331.6 220.0L355.6 220.0L373.6 219.4L384.1 217.8L391.4 215.4L400.6 213.0L406.6 212.6L417.1 212.5L429.1 210.3L433.6 209.8L439.6 209.6L444.1 209.8L450.1 210.7L456.1 212.3L460.6 214.2L465.2 216.9L468.6 219.9L470.7 222.9L471.8 225.9L472.0 227.4L471.9 230.4L471.5 231.9L470.2 234.9L468.2 237.9L466.6 239.8L461.7 243.9L460.6 244.4L457.6 246.4L454.6 247.8L448.6 249.9L441.1 251.5L435.1 252.0L423.1 252.2L418.8 252.9L409.6 258.0L397.6 262.9L394.1 264.9L387.8 269.4L381.3 275.4L377.4 279.9L367.6 292.8L363.1 298.2L361.6 299.6L358.6 301.9L354.1 304.4L351.1 305.6L346.4 306.9L339.1 307.9L334.6 308.2L316.6 306.6L309.1 305.5L304.6 304.4L298.6 302.5L289.6 298.5L283.6 295.0L273.1 287.6L267.9 284.4L262.0 281.4L253.6 277.8L247.6 274.6L242.5 270.9L237.6 266.4L233.8 261.9L229.6 255.5L226.7 249.9L224.2 243.9L222.3 237.9L221.0 231.9L220.1 225.9L219.7 219.9L219.8 213.9L220.4 207.9L221.2 203.4L222.4 198.9L224.0 194.4L225.6 191.4L228.1 189.1L231.4 186.9L235.6 185.0L239.6 183.9Z" fill="#83b9d8" fill-rule="evenodd"/>
<path d="M237.3 186.9L241.6 185.9L244.6 185.7L247.6 185.8L250.6 186.3L253.6 187.1L259.6 189.6L264.1 192.0L267.1 193.9L274.6 199.8L281.4 206.4L292.6 218.8L295.6 221.4L297.1 222.3L298.6 223.0L301.6 223.9L312.1 225.5L318.1 227.0L324.1 229.4L330.1 233.0L331.6 233.6L333.1 233.7L334.6 233.4L343.6 229.5L348.1 228.1L355.6 226.4L361.6 225.7L366.1 225.5L378.1 226.2L382.6 225.9L385.6 224.4L389.2 221.4L391.6 219.8L394.6 218.2L399.1 216.3L403.6 215.4L414.1 214.6L427.6 211.6L433.6 210.7L438.1 210.4L444.1 210.6L451.6 211.8L457.6 213.6L460.6 214.9L463.6 216.6L466.0 218.4L467.6 219.9L469.8 222.9L470.9 225.9L471.2 227.4L471.0 230.4L470.6 231.9L469.3 234.9L468.1 236.7L465.9 239.4L463.6 241.5L460.6 243.7L454.6 247.0L451.1 248.4L447.1 249.6L439.6 251.0L433.6 251.4L421.6 251.2L418.4 251.4L415.6 252.3L409.6 255.3L406.6 256.4L396.3 258.9L393.1 260.6L381.1 268.8L376.6 271.2L372.1 273.2L367.6 274.8L361.6 276.4L354.1 277.6L346.6 278.0L344.2 278.4L343.6 278.9L342.1 281.2L341.3 282.9L338.5 287.4L336.0 290.4L331.3 294.9L328.6 296.8L325.6 298.6L321.1 300.4L316.6 301.4L312.1 301.6L307.6 301.2L301.6 299.7L294.1 296.7L285.1 292.0L274.6 284.8L271.3 282.9L267.1 281.1L256.6 277.6L252.1 275.6L249.1 274.0L244.5 270.9L239.3 266.4L235.3 261.9L231.1 255.9L228.6 251.4L226.6 246.9L224.9 242.4L223.1 236.4L221.9 230.4L221.2 224.4L221.0 218.4L221.2 213.9L222.0 207.9L223.0 203.4L224.6 198.9L226.6 194.6L228.1 192.5L231.1 190.0L234.1 188.2L237.3 186.9Z" fill="#90c3dd" fill-rule="evenodd"/>
<path d="M240.3 188.4L243.1 188.0L246.1 187.9L249.1 188.2L253.6 189.3L261.1 192.5L265.6 195.1L268.6 197.1L274.3 201.9L280.0 207.9L285.7 215.4L292.6 225.9L294.1 227.7L295.6 229.0L297.1 229.7L298.6 230.1L309.1 229.8L312.1 230.2L316.6 231.3L319.6 232.5L322.6 234.2L328.6 239.0L330.1 240.0L331.6 240.6L333.1 240.5L334.6 239.8L340.6 235.6L345.1 233.1L349.6 231.3L355.6 229.6L361.6 228.8L367.6 228.6L373.6 229.2L382.6 230.6L385.6 230.4L387.1 229.8L388.6 228.7L392.1 224.4L394.6 222.1L396.1 221.0L399.1 219.4L403.6 218.1L411.2 216.9L426.1 212.8L430.6 211.9L435.1 211.3L442.6 211.2L448.6 211.9L454.6 213.3L460.6 215.7L465.1 218.6L467.9 221.4L468.9 222.9L470.1 225.9L470.3 227.4L470.2 230.4L469.2 233.4L467.4 236.4L465.1 239.1L463.2 240.9L460.6 242.8L456.3 245.4L453.0 246.9L448.6 248.5L442.6 249.8L436.6 250.5L430.6 250.6L420.1 250.2L417.1 250.3L414.1 250.9L406.6 253.6L403.6 254.1L398.9 254.4L396.1 255.0L393.1 256.4L383.9 263.4L378.1 267.0L372.1 269.5L366.1 271.1L360.1 271.8L354.1 271.7L349.6 271.1L342.1 269.1L340.6 268.9L339.1 269.1L337.4 270.9L335.1 278.4L332.5 284.4L329.5 288.9L325.6 292.9L321.1 295.9L316.6 297.6L312.1 298.2L309.1 298.2L306.1 297.8L300.1 296.0L292.6 292.5L285.1 288.1L276.1 282.0L273.1 280.3L270.1 279.2L262.6 277.8L258.1 276.6L253.6 274.9L249.1 272.5L244.5 269.4L239.6 264.9L235.6 260.3L231.6 254.4L229.2 249.9L226.6 243.9L225.1 239.4L223.6 233.4L222.7 227.4L222.3 222.9L222.3 216.9L222.8 212.4L223.6 207.9L224.9 203.4L226.6 199.2L228.5 195.9L231.1 193.0L233.2 191.4L237.1 189.4L240.3 188.4Z" fill="#9bcce2" fill-rule="evenodd"/>
<path d="M238.0 191.4L240.1 190.7L243.1 190.1L246.1 190.0L249.1 190.3L252.1 190.9L256.6 192.5L259.6 193.7L264.1 196.1L268.6 199.1L271.9 201.9L275.1 204.9L279.0 209.4L284.2 216.9L291.1 229.3L292.6 231.5L294.1 233.0L295.6 233.8L297.1 234.1L307.6 233.0L310.6 233.2L315.1 234.1L318.1 235.3L321.1 237.1L324.1 239.4L328.6 243.7L330.1 244.8L331.6 245.5L333.1 245.7L334.6 245.2L340.9 239.4L343.6 237.4L346.6 235.7L352.1 233.4L357.1 232.1L363.1 231.4L369.1 231.5L373.6 232.1L382.6 234.3L385.6 234.6L387.1 234.4L388.6 233.9L390.1 232.8L394.9 225.9L397.6 223.4L400.6 221.6L403.6 220.5L411.1 218.4L423.1 214.4L429.1 212.9L433.6 212.2L441.1 211.9L448.6 212.6L454.6 214.0L457.6 215.0L460.6 216.4L463.6 218.3L465.1 219.5L466.9 221.4L468.0 222.9L469.3 225.9L469.5 227.4L469.3 230.4L468.3 233.4L466.6 236.2L465.1 238.0L462.1 240.8L459.1 243.0L454.7 245.4L451.6 246.7L447.1 248.2L442.6 249.1L436.6 249.8L430.6 249.9L415.6 249.2L412.6 249.6L408.1 250.8L405.1 251.2L397.6 251.0L394.6 251.5L391.6 253.0L383.0 260.4L378.1 263.7L372.1 266.5L367.6 267.8L364.6 268.4L358.6 268.9L352.6 268.4L349.6 267.8L346.6 266.9L340.6 264.4L339.1 264.0L337.6 264.1L336.1 265.1L334.7 267.9L332.3 276.9L330.5 281.4L327.8 285.9L325.2 288.9L321.1 292.2L316.6 294.3L312.1 295.2L309.1 295.3L306.1 295.0L301.6 293.8L295.6 291.2L289.3 287.4L277.6 279.5L274.6 277.8L271.6 276.8L264.1 276.2L259.6 275.5L255.1 274.1L250.6 272.0L246.1 269.0L241.6 265.2L237.2 260.4L233.9 255.9L231.3 251.4L229.1 246.9L226.8 240.9L225.5 236.4L224.5 231.9L223.8 225.9L223.5 221.4L223.7 216.9L224.2 212.4L225.2 207.9L226.6 203.7L228.2 200.4L230.0 197.4L232.6 194.6L235.6 192.5L238.0 191.4Z" fill="#a6d5e7" fill-rule="evenodd"/>
<path d="M240.1 192.9L243.1 192.2L246.1 192.1L249.1 192.3L253.6 193.4L258.1 195.0L262.6 197.2L267.1 199.9L270.1 202.2L274.6 206.5L279.4 212.4L284.0 219.9L291.1 233.7L292.6 235.6L294.1 236.6L295.6 237.1L297.1 237.1L304.6 235.9L307.6 235.7L310.6 236.0L312.6 236.4L316.6 237.9L319.6 239.7L322.6 242.1L325.7 245.4L330.7 251.4L332.6 254.4L333.0 255.9L332.9 258.9L330.8 270.9L329.2 276.9L327.8 279.9L326.1 282.9L324.1 285.4L322.1 287.4L320.2 288.9L317.7 290.4L315.1 291.5L312.1 292.2L307.6 292.4L304.6 292.0L301.6 291.2L298.6 290.0L294.1 287.7L279.1 277.4L275.6 275.4L273.1 274.6L271.6 274.4L264.1 274.6L261.1 274.3L256.6 273.3L252.1 271.3L248.8 269.4L244.8 266.4L241.6 263.5L238.8 260.4L235.6 256.2L232.6 251.4L230.4 246.9L228.6 242.4L226.7 236.4L225.8 231.9L225.1 226.6L224.9 221.4L225.3 215.4L226.1 210.9L227.4 206.4L229.5 201.9L231.4 198.9L234.1 196.1L237.1 194.2L240.1 192.9ZM428.3 213.9L432.1 213.2L436.6 212.7L444.1 212.7L451.6 213.8L456.1 215.2L459.1 216.4L462.1 218.1L464.5 219.9L466.6 222.2L467.9 224.4L468.5 225.9L468.7 228.9L468.5 230.4L467.5 233.4L465.5 236.4L463.6 238.5L460.6 241.1L457.6 243.1L454.6 244.7L450.1 246.5L442.6 248.4L438.1 249.0L433.6 249.3L427.6 249.1L414.1 248.1L405.1 248.8L401.6 248.4L394.6 246.6L393.1 246.5L391.6 246.7L390.1 247.4L388.6 248.6L382.2 255.9L378.9 258.9L376.8 260.4L374.1 261.9L370.7 263.4L365.2 264.9L361.6 265.3L357.1 265.4L353.3 264.9L349.6 263.9L345.4 261.9L343.2 260.4L340.0 257.4L339.0 255.9L338.3 254.4L338.2 252.9L338.4 251.4L339.4 248.4L340.6 246.1L342.2 243.9L345.1 241.0L347.4 239.4L350.1 237.9L354.1 236.3L358.6 235.2L361.6 234.8L366.1 234.7L369.1 234.9L373.6 235.9L385.6 239.9L387.1 240.1L388.6 240.0L390.1 239.2L391.6 237.5L395.1 230.4L397.0 227.4L398.4 225.9L400.6 224.2L405.1 222.0L417.1 217.3L423.1 215.3L428.3 213.9Z" fill="#b0dcea" fill-rule="evenodd"/>
<path d="M242.9 194.4L246.1 194.1L249.1 194.3L252.1 194.9L256.6 196.3L261.1 198.2L264.1 199.8L267.1 201.7L270.1 204.0L273.1 206.8L275.4 209.4L279.8 215.4L284.0 222.9L289.6 234.9L291.1 237.3L292.6 238.8L294.1 239.5L295.6 239.8L297.1 239.7L304.6 238.4L307.6 238.4L310.6 238.8L313.6 239.7L315.9 240.9L318.1 242.4L321.3 245.4L324.6 249.9L326.9 254.4L328.0 258.9L328.2 263.4L327.8 267.9L327.3 270.9L325.6 276.3L324.1 279.3L322.7 281.4L319.6 284.8L315.8 287.4L311.9 288.9L307.6 289.4L304.6 289.2L301.6 288.6L298.6 287.5L294.1 285.2L280.6 275.6L276.1 273.1L274.6 272.6L271.6 272.4L265.6 273.0L261.1 272.9L256.6 271.9L253.6 270.7L250.6 269.1L246.7 266.4L243.3 263.4L240.1 260.0L236.9 255.9L234.1 251.4L231.1 245.4L229.4 240.9L228.0 236.4L226.9 230.4L226.3 224.4L226.3 219.9L226.8 215.4L227.7 210.9L229.3 206.4L231.1 202.8L232.8 200.4L235.9 197.4L238.6 195.8L242.9 194.4ZM432.3 213.9L436.6 213.4L441.1 213.2L448.6 213.9L453.1 214.9L456.1 215.8L459.1 217.1L461.4 218.4L463.5 219.9L465.1 221.4L466.6 223.5L467.6 225.9L467.9 227.4L467.7 230.4L467.3 231.9L465.7 234.9L463.2 237.9L460.6 240.2L457.6 242.2L454.6 243.9L451.6 245.2L447.1 246.7L439.6 248.2L435.1 248.5L429.1 248.5L412.6 246.9L405.1 246.5L402.1 245.8L400.6 245.2L398.5 243.9L397.0 242.4L396.1 240.9L395.7 239.4L395.6 237.9L396.4 233.4L397.7 230.4L398.7 228.9L399.9 227.4L401.7 225.9L403.9 224.4L408.1 222.2L417.1 218.2L424.6 215.6L432.3 213.9ZM358.2 246.9L360.1 246.3L363.1 245.9L366.1 246.4L367.6 246.9L368.8 248.4L368.7 249.9L367.9 251.4L366.1 252.9L362.1 254.4L360.1 254.5L358.6 254.2L356.1 252.9L355.3 251.4L355.3 249.9L355.6 249.3L356.3 248.4L358.2 246.9Z" fill="#bbe1ed" fill-rule="evenodd"/>
<path d="M240.1 197.4L244.6 196.2L247.6 196.2L250.6 196.5L253.6 197.2L258.1 198.7L262.6 200.7L265.6 202.4L268.6 204.5L272.4 207.9L275.1 210.9L278.4 215.4L282.7 222.9L288.1 235.2L289.6 238.2L291.1 240.3L292.6 241.5L294.1 242.0L295.6 242.2L304.6 240.9L309.1 241.4L312.1 242.4L313.6 243.2L316.4 245.4L317.9 246.9L320.9 251.4L322.6 255.9L323.5 260.4L323.6 264.9L323.0 269.4L321.7 273.9L319.4 278.4L316.6 281.8L313.1 284.4L309.1 286.0L304.6 286.3L300.1 285.5L297.1 284.4L294.1 282.8L291.1 280.8L282.1 274.0L277.6 271.3L276.1 270.8L273.1 270.4L265.6 271.5L262.6 271.7L259.6 271.4L256.6 270.6L252.1 268.6L249.1 266.7L245.1 263.4L242.1 260.4L239.6 257.4L236.4 252.9L233.9 248.4L231.8 243.9L230.2 239.4L229.0 234.9L228.1 229.5L227.7 224.4L227.8 219.9L228.4 215.4L229.4 210.9L231.1 206.7L233.0 203.4L235.6 200.4L237.4 198.9L240.1 197.4ZM428.4 215.4L432.1 214.7L436.6 214.1L444.1 214.0L448.6 214.5L451.6 215.1L457.6 217.1L462.1 219.7L464.1 221.4L465.4 222.9L466.3 224.4L467.1 227.4L467.2 228.9L466.5 231.9L465.1 234.5L463.6 236.5L460.6 239.3L457.6 241.4L454.6 243.1L450.1 245.0L445.6 246.4L441.1 247.3L436.6 247.7L430.6 247.8L418.6 246.7L408.1 245.1L405.1 244.4L402.1 243.1L400.6 241.8L399.8 240.9L399.0 239.4L398.5 237.9L398.5 234.9L399.4 231.9L400.1 230.4L402.6 227.4L406.5 224.4L412.6 221.0L420.1 217.9L428.4 215.4Z" fill="#c5e6f0" fill-rule="evenodd"/>
<path d="M242.3 198.9L244.6 198.4L247.6 198.2L250.6 198.5L253.6 199.2L261.1 201.8L264.1 203.2L267.1 205.0L270.1 207.3L273.1 210.3L276.1 213.9L278.1 216.9L280.7 221.4L282.9 225.9L288.1 238.4L289.6 241.2L291.1 243.0L292.6 244.0L294.1 244.4L297.1 244.4L303.1 243.6L306.1 243.7L307.6 244.0L310.8 245.4L312.8 246.9L314.3 248.4L316.3 251.4L318.1 255.9L318.8 260.4L318.8 264.9L318.1 269.4L316.6 273.9L314.9 276.9L312.3 279.9L309.1 282.0L306.1 283.0L303.1 283.2L298.6 282.4L295.6 281.2L292.6 279.5L283.5 272.4L280.6 270.6L277.6 269.2L276.1 268.8L273.1 268.6L265.6 270.1L262.6 270.3L259.6 270.1L255.1 268.7L252.1 267.2L248.7 264.9L245.2 261.9L242.4 258.9L240.0 255.9L237.0 251.4L234.6 246.9L232.6 242.4L231.2 237.9L230.1 233.4L229.4 228.9L229.2 224.4L229.4 219.9L230.0 215.4L231.1 211.4L232.6 207.8L234.3 204.9L237.0 201.9L240.1 199.8L242.3 198.9ZM432.0 215.4L439.6 214.6L447.1 215.0L453.1 216.2L456.1 217.2L459.1 218.5L461.3 219.9L463.6 221.9L465.1 223.8L466.0 225.9L466.4 228.9L466.2 230.4L464.9 233.4L462.7 236.4L460.6 238.4L457.6 240.6L454.6 242.3L451.6 243.7L447.1 245.3L442.6 246.3L438.1 246.9L433.6 247.2L427.6 246.9L420.1 246.1L414.1 245.1L409.6 244.1L406.6 243.1L403.6 241.4L402.1 239.9L401.0 237.9L400.7 236.4L400.9 233.4L401.4 231.9L403.3 228.9L406.4 225.9L410.9 222.9L417.2 219.9L424.6 217.2L432.0 215.4Z" fill="#cfebf3" fill-rule="evenodd"/>
<path d="M245.4 200.4L249.1 200.3L252.1 200.8L259.6 203.0L265.6 205.7L268.6 207.7L271.6 210.3L276.1 215.6L279.7 221.4L283.2 228.9L288.1 241.5L289.6 244.1L291.1 245.6L292.6 246.5L294.1 246.8L297.1 246.8L301.6 246.4L304.6 246.5L307.6 247.5L309.1 248.4L310.8 249.9L312.9 252.9L314.0 255.9L314.7 258.9L314.9 263.4L314.2 267.9L313.3 270.9L311.9 273.9L310.6 275.7L309.1 277.3L306.1 279.2L303.1 280.0L300.1 280.0L297.1 279.2L292.6 277.0L285.1 271.0L282.1 269.0L279.1 267.6L276.1 266.9L273.1 266.9L264.1 268.9L261.1 269.0L258.1 268.5L255.1 267.5L250.6 264.9L246.9 261.9L242.7 257.4L240.4 254.4L237.6 249.9L235.3 245.4L233.5 240.9L232.1 236.4L231.2 231.9L230.7 227.4L230.7 222.9L231.1 218.4L232.1 213.9L233.9 209.4L235.6 206.6L237.1 204.7L240.1 202.3L243.1 200.9L245.4 200.4ZM437.4 215.4L444.1 215.3L450.1 216.1L456.1 217.8L460.6 220.2L463.6 222.9L464.6 224.4L465.3 225.9L465.6 227.4L465.6 228.9L465.1 231.2L464.1 233.4L463.1 234.9L460.6 237.5L458.2 239.4L454.6 241.6L451.6 243.0L447.1 244.6L444.1 245.3L436.6 246.4L432.1 246.5L427.6 246.3L421.6 245.6L415.6 244.6L411.1 243.5L408.3 242.4L405.7 240.9L404.2 239.4L403.2 237.9L402.7 236.4L402.6 234.9L403.2 231.9L405.0 228.9L406.3 227.4L409.6 224.8L415.6 221.5L423.1 218.5L430.6 216.4L437.4 215.4Z" fill="#daf0f6" fill-rule="evenodd"/>
<path d="M242.6 203.4L244.6 202.7L247.6 202.3L250.6 202.5L253.6 203.0L258.1 204.3L262.6 205.9L265.6 207.4L268.6 209.3L271.6 211.9L273.5 213.9L276.1 217.3L278.6 221.4L280.9 225.9L282.8 230.4L287.8 243.9L289.6 247.0L291.1 248.3L292.6 249.1L294.1 249.4L301.6 249.3L304.6 249.9L307.1 251.4L308.6 252.9L310.2 255.9L311.0 258.9L311.3 261.9L311.1 264.9L310.4 267.9L309.2 270.9L307.6 273.3L306.1 274.7L304.6 275.7L301.6 276.7L300.1 276.8L297.1 276.4L294.6 275.4L292.6 274.3L283.6 267.4L280.6 266.1L277.6 265.3L274.6 265.2L273.1 265.3L264.1 267.7L261.1 267.8L258.1 267.3L255.1 266.2L252.1 264.6L248.6 261.9L245.5 258.9L243.0 255.9L239.9 251.4L238.1 248.4L235.9 243.9L234.7 240.9L233.4 236.4L232.5 231.9L232.1 227.4L232.2 222.9L232.5 219.9L233.5 215.4L234.5 212.4L236.1 209.4L238.4 206.4L240.1 204.8L242.6 203.4ZM431.6 216.9L438.1 216.0L445.6 216.0L451.6 217.0L454.6 217.9L457.6 219.1L461.2 221.4L462.7 222.9L463.8 224.4L464.5 225.9L464.8 227.4L464.8 228.9L464.1 231.9L462.2 234.9L460.6 236.6L457.6 239.0L454.6 240.9L451.6 242.3L447.1 243.9L444.1 244.6L439.6 245.4L435.1 245.7L430.6 245.7L424.6 245.3L418.6 244.4L414.1 243.4L411.0 242.4L408.0 240.9L406.2 239.4L405.1 237.9L404.4 236.4L404.2 234.9L404.3 233.4L405.4 230.4L407.8 227.4L411.8 224.4L417.7 221.4L424.6 218.7L431.6 216.9Z" fill="#e2f4f4" fill-rule="evenodd"/>
<path d="M244.5 204.9L247.6 204.3L250.6 204.4L255.1 205.3L261.1 207.1L264.1 208.3L267.1 209.9L270.1 212.0L273.1 215.0L276.7 219.9L280.0 225.9L283.0 233.4L286.6 244.5L288.1 248.1L289.6 250.2L291.1 251.4L292.6 252.0L294.1 252.3L300.1 252.6L301.7 252.9L303.1 253.4L304.6 254.4L306.1 256.2L307.3 258.9L307.6 260.4L307.6 263.4L307.0 266.4L306.5 267.9L305.6 269.4L304.4 270.9L302.4 272.4L300.1 273.1L298.6 273.2L295.6 272.7L292.1 270.9L285.1 265.5L282.1 264.2L279.1 263.6L276.1 263.5L273.1 263.8L265.6 266.1L262.6 266.6L261.1 266.6L258.1 266.1L255.1 265.0L252.1 263.3L249.1 260.9L246.1 257.9L243.3 254.4L241.2 251.4L238.6 246.9L236.5 242.4L235.0 237.9L234.3 234.9L233.6 230.4L233.4 227.4L233.6 222.9L234.0 219.9L235.2 215.4L236.5 212.4L238.4 209.4L240.1 207.5L241.6 206.3L244.5 204.9ZM435.7 216.9L442.6 216.5L448.6 217.0L454.6 218.5L459.1 220.7L461.8 222.9L462.9 224.4L463.7 225.9L464.0 227.4L464.1 228.9L463.6 231.0L462.5 233.4L461.3 234.9L459.1 237.1L456.1 239.3L453.1 240.9L450.1 242.2L445.6 243.6L438.1 244.9L433.6 245.1L427.6 244.9L421.6 244.2L417.1 243.3L413.6 242.4L410.1 240.9L408.0 239.4L406.7 237.9L405.9 236.4L405.6 234.9L405.7 233.4L406.1 231.9L407.8 228.9L411.1 225.9L416.3 222.9L423.1 220.0L429.1 218.2L435.7 216.9Z" fill="#eaf7e6" fill-rule="evenodd"/>
<path d="M246.8 206.4L250.6 206.2L253.6 206.7L262.6 209.4L265.6 210.7L268.6 212.4L271.6 215.0L273.1 216.6L276.6 221.4L278.3 224.4L280.4 228.9L283.1 236.4L286.6 248.9L288.1 252.5L289.6 254.5L291.1 255.5L294.1 256.3L298.6 256.9L300.1 257.4L301.6 258.5L302.7 260.4L303.1 261.9L303.0 263.4L302.6 264.9L301.6 266.7L300.3 267.9L298.6 268.6L297.1 268.7L294.1 267.9L291.7 266.4L286.6 262.6L283.6 261.8L277.6 261.7L274.6 261.9L271.6 262.6L264.1 265.2L261.1 265.4L258.1 265.0L255.1 263.8L252.1 262.0L249.1 259.5L246.1 256.3L243.4 252.9L241.5 249.9L239.7 246.9L237.6 242.4L236.1 237.9L235.4 234.9L234.9 231.9L234.6 227.4L234.9 222.9L235.9 218.4L236.9 215.4L238.5 212.4L240.1 210.2L241.6 208.8L244.6 207.0L246.8 206.4ZM431.0 218.4L438.1 217.3L444.1 217.1L450.1 217.8L453.1 218.6L456.1 219.7L459.1 221.4L460.9 222.9L462.1 224.4L462.9 225.9L463.3 227.4L463.3 228.9L462.5 231.9L460.6 234.7L458.9 236.4L456.1 238.5L453.1 240.2L450.1 241.5L445.6 242.9L438.1 244.2L433.6 244.5L429.1 244.3L423.1 243.7L418.6 242.9L415.6 242.1L412.2 240.9L409.7 239.4L408.2 237.9L407.4 236.4L407.0 234.9L407.0 233.4L407.3 231.9L408.1 230.4L409.1 228.9L410.7 227.4L414.1 225.0L418.6 222.7L424.6 220.2L431.0 218.4Z" fill="#f0f9db" fill-rule="evenodd"/>
<path d="M243.9 209.4L246.1 208.4L249.1 207.9L252.1 208.1L256.6 209.1L262.6 211.0L267.1 213.1L270.1 215.1L273.1 218.1L276.1 222.2L278.1 225.9L280.7 231.9L282.7 237.9L284.4 245.4L285.4 251.4L285.6 254.4L285.4 255.9L284.6 257.4L283.6 258.2L282.1 259.0L279.1 259.7L273.1 260.7L265.6 263.5L262.6 264.2L261.1 264.3L258.1 263.8L255.1 262.7L253.6 261.8L250.6 259.6L247.0 255.9L242.6 249.9L239.3 243.9L237.6 239.4L236.7 236.4L235.8 230.4L235.8 225.9L236.1 222.9L236.8 219.9L237.8 216.9L239.4 213.9L240.4 212.4L241.8 210.9L243.9 209.4ZM434.2 218.4L439.6 217.7L445.6 217.8L451.6 218.8L456.1 220.4L457.9 221.4L459.9 222.9L461.2 224.4L462.1 225.9L462.5 227.4L462.5 228.9L462.3 230.4L461.7 231.9L460.6 233.7L457.9 236.4L455.9 237.9L453.1 239.5L447.1 241.9L442.6 243.0L439.6 243.4L435.1 243.8L430.6 243.8L421.6 242.7L417.1 241.7L414.1 240.7L411.5 239.4L409.8 237.9L408.8 236.4L408.3 234.9L408.2 233.4L408.6 231.9L409.3 230.4L410.5 228.9L412.1 227.4L416.8 224.4L421.6 222.1L427.6 220.0L434.2 218.4Z" fill="#f6fbd0" fill-rule="evenodd"/>
<path d="M244.5 210.9L246.1 210.2L249.1 209.5L252.1 209.6L256.6 210.6L262.6 212.6L267.1 214.7L270.1 216.7L273.1 219.7L276.1 223.9L278.0 227.4L280.4 233.4L282.2 239.4L283.3 245.4L283.7 249.9L283.4 252.9L283.0 254.4L282.0 255.9L280.6 257.0L279.1 257.7L271.6 259.6L264.1 262.7L261.1 263.1L258.1 262.7L255.1 261.5L253.6 260.7L250.6 258.3L246.9 254.4L242.7 248.4L239.6 242.4L237.6 236.4L236.7 230.4L236.7 227.4L237.0 224.4L237.6 221.4L238.6 218.4L240.1 215.4L241.1 213.9L243.1 211.9L244.5 210.9ZM438.8 218.4L444.1 218.3L450.1 219.0L454.6 220.4L457.6 221.9L458.9 222.9L460.3 224.4L461.2 225.9L461.7 227.4L461.8 228.9L461.5 230.4L460.9 231.9L460.0 233.4L458.7 234.9L456.1 237.0L453.1 238.8L450.1 240.2L444.1 242.0L436.6 243.1L432.1 243.2L427.6 242.9L423.1 242.3L418.6 241.3L415.6 240.4L413.5 239.4L411.4 237.9L410.2 236.4L409.6 234.9L409.5 233.4L409.9 231.9L410.6 230.4L412.6 228.2L415.7 225.9L421.6 222.9L427.6 220.6L433.6 219.1L438.8 218.4Z" fill="#fcfec5" fill-rule="evenodd"/>
<path d="M250.4 210.9L253.6 211.2L256.6 211.9L265.6 215.5L268.6 217.2L270.1 218.3L273.1 221.3L274.6 223.3L277.0 227.4L279.1 232.2L280.9 237.9L282.1 243.9L282.3 248.4L281.9 251.4L281.4 252.9L280.6 254.2L279.1 255.4L277.6 256.2L271.6 258.0L264.1 261.5L261.1 262.0L258.1 261.6L256.6 261.1L253.6 259.5L250.6 257.1L246.8 252.9L243.6 248.4L240.4 242.4L239.3 239.4L238.4 236.4L237.9 233.4L237.6 230.4L237.6 227.4L237.9 224.4L238.7 221.4L239.8 218.4L241.6 215.4L242.9 213.9L244.6 212.6L246.1 211.7L247.6 211.2L250.4 210.9ZM432.7 219.9L438.1 219.0L444.1 218.8L448.6 219.3L453.1 220.4L456.1 221.7L457.9 222.9L459.5 224.4L460.4 225.9L460.9 227.4L461.0 228.9L460.7 230.4L460.1 231.9L459.1 233.4L457.7 234.9L455.9 236.4L453.1 238.2L450.1 239.6L447.1 240.6L444.1 241.5L439.6 242.2L435.1 242.6L430.6 242.5L426.1 242.1L421.6 241.3L418.6 240.5L415.6 239.4L413.1 237.9L411.7 236.4L411.0 234.9L410.8 233.4L411.2 231.9L412.6 229.7L415.0 227.4L418.6 225.2L423.4 222.9L427.6 221.3L432.7 219.9Z" fill="#fffcba" fill-rule="evenodd"/>
<path d="M248.5 212.4L252.1 212.2L255.1 212.7L259.6 214.3L264.1 216.2L267.1 217.8L270.1 219.9L273.1 222.9L274.6 225.0L277.5 230.4L279.1 234.7L280.3 239.4L281.0 243.9L281.1 246.9L280.6 250.2L280.1 251.4L279.1 252.9L277.6 254.1L271.6 256.4L264.1 260.3L261.1 260.9L259.6 260.9L256.6 260.1L254.3 258.9L252.1 257.3L249.1 254.4L245.5 249.9L241.9 243.9L239.6 237.9L238.5 231.9L238.4 227.4L238.8 224.4L239.6 221.4L241.6 217.3L243.1 215.4L244.6 214.1L246.1 213.2L248.5 212.4ZM435.7 219.9L441.1 219.3L445.6 219.4L450.1 220.1L454.6 221.6L457.6 223.5L458.5 224.4L459.6 225.9L460.1 227.4L460.2 228.9L460.0 230.4L459.3 231.9L458.3 233.4L456.1 235.5L451.6 238.3L445.6 240.5L441.1 241.5L438.1 241.8L430.6 241.9L423.1 240.9L417.1 239.1L414.9 237.9L413.2 236.4L412.4 234.9L412.2 233.4L412.5 231.9L414.1 229.6L416.5 227.4L421.6 224.4L426.1 222.5L430.6 221.0L435.7 219.9Z" fill="#fff6b1" fill-rule="evenodd"/>
<path d="M247.5 213.9L249.1 213.4L252.1 213.3L255.1 213.9L258.1 214.8L264.1 217.6L268.0 219.9L270.1 221.5L273.1 224.7L274.9 227.4L277.1 231.9L278.2 234.9L279.4 239.4L279.9 243.9L279.8 246.9L279.1 249.5L277.6 251.6L275.7 252.9L271.6 254.7L265.6 258.4L262.6 259.6L261.1 259.8L258.1 259.5L255.1 258.3L251.7 255.9L247.6 251.5L244.4 246.9L241.3 240.9L239.5 234.9L239.1 230.4L239.2 227.4L239.6 224.4L241.2 219.9L243.1 217.0L244.6 215.5L246.1 214.5L247.5 213.9ZM440.8 219.9L445.6 220.0L450.1 220.6L453.1 221.6L456.1 223.2L457.6 224.4L458.7 225.9L459.3 227.4L459.5 228.9L459.2 230.4L458.5 231.9L457.4 233.4L455.9 234.9L453.9 236.4L451.6 237.7L448.6 239.0L442.6 240.6L438.1 241.3L435.1 241.5L427.6 241.0L424.6 240.5L420.3 239.4L416.8 237.9L414.9 236.4L413.9 234.9L413.6 233.4L413.9 231.9L414.8 230.4L417.1 228.1L420.4 225.9L424.6 223.8L430.6 221.6L435.1 220.5L440.8 219.9Z" fill="#fff0a8" fill-rule="evenodd"/>
<path d="M246.7 215.4L249.1 214.5L250.6 214.3L253.6 214.5L258.1 215.9L263.1 218.4L267.9 221.4L271.3 224.4L273.7 227.4L276.1 231.9L277.7 236.4L278.5 240.9L278.6 245.4L277.7 248.4L276.1 250.3L271.6 252.9L265.6 257.1L264.1 257.9L262.6 258.4L259.6 258.7L256.6 258.0L253.6 256.3L250.6 253.8L247.2 249.9L244.2 245.4L242.0 240.9L240.9 237.9L239.9 233.4L239.7 228.9L240.1 225.9L240.8 222.9L242.2 219.9L244.6 216.9L246.7 215.4ZM433.6 221.4L438.1 220.6L442.6 220.4L447.1 220.6L451.6 221.6L454.6 222.9L456.6 224.4L457.6 225.5L458.5 227.4L458.7 228.9L458.4 230.4L457.7 231.9L456.6 233.4L454.9 234.9L452.8 236.4L450.1 237.8L447.1 238.9L441.1 240.4L438.1 240.7L433.6 240.9L427.6 240.4L421.6 239.0L418.9 237.9L416.6 236.4L415.5 234.9L415.1 233.4L415.4 231.9L416.2 230.4L417.6 228.9L420.1 227.0L424.8 224.4L429.1 222.7L433.6 221.4Z" fill="#feea9f" fill-rule="evenodd"/>
<path d="M249.9 215.4L252.1 215.3L253.6 215.4L256.6 216.3L259.6 217.6L262.6 219.3L267.1 222.3L270.1 225.0L272.2 227.4L274.6 231.3L276.1 234.9L277.1 239.4L277.4 242.4L276.9 245.4L276.1 247.2L274.6 248.8L270.1 252.1L265.6 255.7L262.6 257.3L261.1 257.6L258.1 257.5L255.1 256.3L252.1 254.2L249.1 251.2L245.9 246.9L243.3 242.4L241.5 237.9L240.8 234.9L240.3 230.4L240.7 225.9L241.6 222.9L243.1 220.0L244.6 218.1L246.1 216.8L247.6 216.0L249.9 215.4ZM436.3 221.4L441.1 220.9L445.6 221.0L450.1 221.8L453.1 222.8L455.6 224.4L457.0 225.9L457.7 227.4L457.9 228.9L457.6 230.4L456.9 231.9L455.7 233.4L454.0 234.9L451.6 236.4L448.6 237.8L445.6 238.9L439.6 240.1L436.6 240.3L432.1 240.3L425.6 239.4L423.1 238.7L420.1 237.5L418.4 236.4L417.0 234.9L416.6 233.4L416.8 231.9L417.6 230.4L418.9 228.9L420.8 227.4L423.2 225.9L427.6 223.8L432.1 222.3L436.3 221.4Z" fill="#fee294" fill-rule="evenodd"/>
<path d="M247.9 216.9L250.6 216.2L253.6 216.3L258.1 217.8L261.9 219.9L266.0 222.9L270.1 226.8L272.7 230.4L274.6 234.4L275.5 237.9L275.8 240.9L275.4 243.9L274.7 245.4L273.6 246.9L267.3 252.9L265.5 254.4L262.6 256.1L261.1 256.6L258.1 256.5L255.1 255.3L252.1 253.2L249.1 250.2L246.6 246.9L243.9 242.4L242.6 239.4L241.3 234.9L240.9 231.9L241.0 228.9L241.4 225.9L242.4 222.9L244.1 219.9L246.1 217.9L247.9 216.9ZM440.9 221.4L445.6 221.5L448.6 221.9L451.8 222.9L454.6 224.4L456.1 225.9L456.8 227.4L457.1 228.9L456.8 230.4L456.0 231.9L454.8 233.4L453.0 234.9L448.6 237.3L444.1 238.7L438.1 239.7L432.1 239.8L426.1 238.8L423.1 237.9L421.6 237.2L420.1 236.4L418.6 234.9L418.0 233.4L418.2 231.9L418.9 230.4L420.3 228.9L423.1 226.8L427.6 224.5L432.0 222.9L436.6 221.9L440.9 221.4Z" fill="#feda8a" fill-rule="evenodd"/>
<path d="M246.8 218.4L249.1 217.3L252.1 216.9L255.1 217.4L259.6 219.4L264.5 222.9L267.6 225.9L271.1 230.4L272.6 233.4L273.6 236.4L274.0 239.4L273.7 242.4L273.0 243.9L270.9 246.9L267.1 251.4L264.1 254.1L262.6 255.0L261.1 255.5L259.6 255.7L258.1 255.5L256.6 255.1L253.6 253.5L250.6 250.9L247.6 247.4L245.3 243.9L243.8 240.9L242.6 237.9L241.9 234.9L241.5 230.4L241.7 227.4L242.5 224.4L243.9 221.4L245.1 219.9L246.8 218.4ZM434.0 222.9L438.1 222.1L442.6 221.8L447.1 222.2L450.2 222.9L453.1 224.2L455.1 225.9L456.0 227.4L456.2 228.9L456.0 230.4L455.2 231.9L453.9 233.4L452.0 234.9L450.1 236.0L445.6 237.8L439.6 239.1L433.6 239.3L427.6 238.5L425.2 237.9L423.1 237.0L421.9 236.4L420.2 234.9L419.5 233.4L419.5 231.9L420.3 230.4L421.6 228.9L423.5 227.4L426.1 225.8L429.2 224.4L434.0 222.9Z" fill="#fed081" fill-rule="evenodd"/>
<path d="M248.5 218.4L250.6 217.8L253.6 217.8L256.6 218.7L259.6 220.3L263.2 222.9L266.2 225.9L269.5 230.4L271.0 233.4L271.9 236.4L272.1 239.4L271.9 240.9L270.8 243.9L268.0 248.4L265.6 251.4L264.0 252.9L262.6 253.8L261.1 254.4L259.6 254.6L256.6 254.2L255.1 253.5L252.1 251.4L249.1 248.3L246.9 245.4L245.1 242.4L243.7 239.4L242.4 234.9L242.0 231.9L242.1 228.9L242.6 225.9L243.8 222.9L244.7 221.4L246.1 219.9L248.5 218.4ZM436.4 222.9L439.6 222.5L444.1 222.4L447.1 222.7L450.1 223.5L452.2 224.4L454.1 225.9L455.1 227.4L455.4 228.9L455.1 230.4L454.3 231.9L453.0 233.4L450.1 235.4L445.6 237.3L439.6 238.6L433.6 238.8L429.1 238.2L424.6 236.8L423.7 236.4L421.7 234.9L420.9 233.4L420.9 231.9L421.5 230.4L422.8 228.9L424.7 227.4L429.1 225.1L432.1 224.0L436.4 222.9Z" fill="#fdc778" fill-rule="evenodd"/>
<path d="M247.3 219.9L249.1 218.9L252.1 218.4L255.1 218.9L258.1 220.2L262.0 222.9L265.0 225.9L267.2 228.9L268.9 231.9L269.9 234.9L270.3 237.9L270.3 239.4L269.6 242.4L267.6 246.9L265.5 249.9L264.1 251.4L262.6 252.6L261.1 253.3L259.6 253.6L258.1 253.6L256.6 253.2L255.1 252.6L252.1 250.5L249.9 248.4L247.6 245.6L245.6 242.4L244.2 239.4L243.2 236.4L242.6 233.4L242.5 230.4L242.8 227.4L243.7 224.4L244.5 222.9L246.1 220.8L247.3 219.9ZM440.2 222.9L444.1 222.9L447.1 223.2L450.1 224.1L451.6 224.8L453.1 225.9L454.2 227.4L454.5 228.9L454.3 230.4L453.4 231.9L452.0 233.4L450.1 234.7L446.6 236.4L441.1 237.8L436.6 238.3L432.1 238.1L427.6 237.2L424.6 235.9L423.2 234.9L422.2 233.4L422.1 231.9L422.8 230.4L424.0 228.9L426.1 227.3L428.6 225.9L432.4 224.4L436.6 223.4L440.2 222.9Z" fill="#fdbd6f" fill-rule="evenodd"/>
<path d="M248.7 219.9L250.6 219.2L253.6 219.2L256.6 220.1L258.9 221.4L261.1 223.0L264.0 225.9L266.2 228.9L267.7 231.9L268.6 234.9L268.9 237.9L268.3 242.4L267.1 245.4L265.4 248.4L264.1 250.0L262.6 251.4L261.1 252.2L259.6 252.6L258.1 252.7L256.6 252.4L255.1 251.7L252.1 249.7L249.3 246.9L247.6 244.7L246.1 242.3L244.7 239.4L243.7 236.4L243.1 233.4L243.0 230.4L243.4 227.4L244.4 224.4L245.2 222.9L246.5 221.4L248.7 219.9ZM434.2 224.4L438.1 223.6L441.1 223.3L445.6 223.5L448.6 224.2L451.6 225.6L453.1 227.2L453.6 228.9L453.4 230.4L452.5 231.9L451.6 232.9L448.7 234.9L445.0 236.4L441.1 237.3L436.6 237.8L432.1 237.6L427.6 236.5L424.7 234.9L423.6 233.4L423.4 231.9L424.0 230.4L425.2 228.9L427.2 227.4L429.1 226.3L434.2 224.4Z" fill="#fdb366" fill-rule="evenodd"/>
<path d="M250.9 219.9L253.6 219.9L255.1 220.2L258.1 221.6L260.0 222.9L261.7 224.4L264.2 227.4L266.0 230.4L267.1 233.4L267.5 234.9L267.8 237.9L267.5 240.9L266.6 243.9L265.2 246.9L264.1 248.6L262.6 250.2L261.1 251.2L259.6 251.7L258.1 251.8L255.1 250.9L252.1 248.9L250.6 247.5L248.8 245.4L246.7 242.4L245.2 239.4L244.1 236.4L243.6 233.4L243.5 230.4L243.9 227.4L244.3 225.9L246.0 222.9L247.5 221.4L249.1 220.4L250.9 219.9ZM436.4 224.4L439.6 223.9L442.6 223.8L445.6 224.1L448.6 224.8L450.8 225.9L452.2 227.4L452.7 228.9L452.5 230.4L451.6 231.9L450.0 233.4L448.6 234.3L445.6 235.7L441.1 236.8L436.6 237.3L432.1 237.0L429.1 236.3L426.1 234.8L424.9 233.4L424.6 231.9L425.2 230.4L426.4 228.9L428.4 227.4L431.4 225.9L436.4 224.4Z" fill="#fca85e" fill-rule="evenodd"/>
<path d="M248.6 221.4L250.6 220.6L253.6 220.5L255.1 220.9L258.1 222.3L260.8 224.4L262.2 225.9L264.4 228.9L265.8 231.9L266.3 233.4L266.8 236.4L266.8 239.4L266.2 242.4L265.0 245.4L263.1 248.4L261.1 250.1L259.6 250.7L258.1 250.9L256.6 250.6L255.1 250.1L252.1 248.1L249.4 245.4L247.6 243.0L246.4 240.9L245.1 237.9L244.2 234.9L243.9 231.9L244.1 228.9L244.4 227.4L244.9 225.9L246.1 223.7L247.6 222.1L248.6 221.4ZM439.8 224.4L442.6 224.3L445.6 224.6L449.4 225.9L451.2 227.4L451.8 228.9L451.6 230.4L450.1 232.4L448.9 233.4L447.1 234.4L444.1 235.6L439.6 236.6L435.1 236.7L432.1 236.4L427.8 234.9L426.2 233.4L425.8 231.9L426.3 230.4L427.6 228.9L429.7 227.4L433.6 225.7L436.6 224.9L439.8 224.4Z" fill="#fa9b58" fill-rule="evenodd"/>
<path d="M250.2 221.4L252.1 221.0L253.6 221.1L256.6 222.1L258.1 223.0L260.0 224.4L262.6 227.4L263.6 228.9L265.0 231.9L265.8 234.9L266.0 237.9L265.3 242.4L264.1 245.4L263.2 246.9L261.1 249.0L259.6 249.7L258.1 250.0L256.6 249.8L255.1 249.3L252.1 247.4L250.1 245.4L247.8 242.4L245.5 237.9L244.7 234.9L244.3 231.9L244.6 228.9L244.9 227.4L246.1 224.7L247.6 222.9L249.1 221.8L250.2 221.4ZM434.7 225.9L438.1 225.1L441.1 224.9L444.1 225.0L447.1 225.6L448.6 226.3L450.1 227.4L450.8 228.9L450.6 230.4L449.6 231.9L447.8 233.4L444.6 234.9L441.1 235.8L438.1 236.2L435.1 236.2L432.1 235.7L429.6 234.9L427.6 233.4L427.1 231.9L427.5 230.4L428.8 228.9L430.6 227.7L434.7 225.9Z" fill="#f88c51" fill-rule="evenodd"/>
<path d="M248.6 222.9L250.6 221.9L252.1 221.7L253.6 221.7L256.6 222.7L259.1 224.4L260.7 225.9L261.9 227.4L263.7 230.4L265.1 234.9L265.3 237.9L264.9 240.9L263.9 243.9L262.6 246.3L261.1 247.9L259.6 248.8L258.1 249.1L256.6 249.0L253.6 247.7L252.1 246.6L249.4 243.9L247.6 241.3L246.6 239.4L245.1 234.9L244.8 230.4L245.4 227.4L246.0 225.9L247.0 224.4L248.6 222.9ZM436.9 225.9L441.1 225.4L444.1 225.6L445.9 225.9L448.8 227.4L449.7 228.9L449.5 230.4L448.5 231.9L446.5 233.4L442.7 234.9L439.6 235.5L436.6 235.6L433.6 235.4L431.6 234.9L429.1 233.4L428.4 231.9L428.7 230.4L430.1 228.9L432.4 227.4L436.9 225.9Z" fill="#f67f4b" fill-rule="evenodd"/>
<path d="M249.8 222.9L252.1 222.3L253.6 222.3L255.6 222.9L258.1 224.3L259.9 225.9L261.2 227.4L262.2 228.9L263.7 231.9L264.6 236.4L264.2 240.9L263.1 243.9L262.2 245.4L261.1 246.8L259.6 247.8L258.1 248.2L256.6 248.2L255.1 247.8L252.1 245.9L250.6 244.5L248.9 242.4L247.6 240.4L246.4 237.9L245.3 233.4L245.3 230.4L245.5 228.9L246.1 227.0L247.6 224.5L249.8 222.9ZM434.0 227.4L436.6 226.6L439.6 226.1L442.6 226.0L444.1 226.2L447.3 227.4L448.5 228.9L448.4 230.4L447.1 232.1L445.1 233.4L442.6 234.3L438.1 235.1L435.1 235.0L433.6 234.7L430.6 233.4L429.7 231.9L430.0 230.4L431.4 228.9L434.0 227.4Z" fill="#f57245" fill-rule="evenodd"/>
<path d="M251.9 222.9L253.6 222.9L255.1 223.3L257.3 224.4L259.2 225.9L261.6 228.9L263.0 231.9L263.5 233.4L263.9 237.9L263.5 240.9L263.0 242.4L262.3 243.9L261.1 245.6L259.6 246.8L258.1 247.4L256.6 247.4L255.1 247.0L252.1 245.2L250.6 243.8L249.1 242.0L247.6 239.5L246.1 235.4L245.7 231.9L246.0 228.9L246.5 227.4L247.6 225.4L249.1 223.9L250.6 223.2L251.9 222.9ZM436.0 227.4L439.6 226.7L442.6 226.7L444.1 227.0L445.6 227.4L447.1 228.8L447.2 230.4L445.6 232.2L443.3 233.4L441.1 234.0L436.6 234.4L435.1 234.2L432.5 233.4L431.2 231.9L431.4 230.4L432.9 228.9L436.0 227.4Z" fill="#f16640" fill-rule="evenodd"/>
<path d="M249.5 224.4L250.6 223.8L252.1 223.5L253.6 223.5L255.1 223.9L256.6 224.6L258.1 225.6L259.9 227.4L261.1 229.1L262.4 231.9L262.9 233.4L263.3 236.4L263.1 239.4L262.8 240.9L262.2 242.4L261.1 244.4L259.6 245.8L258.1 246.5L256.6 246.6L255.1 246.3L253.6 245.6L252.1 244.5L250.6 243.1L249.1 241.2L247.3 237.9L246.2 233.4L246.2 230.4L246.5 228.9L247.6 226.4L249.5 224.4ZM439.4 227.4L442.1 227.4L444.1 228.0L445.6 228.9L445.8 230.4L444.1 232.1L441.1 233.3L439.6 233.6L436.6 233.6L435.2 233.4L433.6 232.5L432.9 231.9L432.9 230.4L434.6 228.9L436.6 228.1L439.4 227.4Z" fill="#eb5a3a" fill-rule="evenodd"/>
<path d="M250.8 224.4L252.1 224.1L253.6 224.1L255.1 224.5L256.6 225.2L258.1 226.3L259.6 227.9L261.1 230.2L261.9 231.9L262.3 233.4L262.7 236.4L262.5 239.4L262.1 240.9L261.5 242.4L260.5 243.9L259.6 244.8L258.1 245.6L256.6 245.8L255.1 245.6L253.6 244.9L252.1 243.8L250.6 242.4L249.1 240.4L247.2 236.4L246.6 233.4L246.5 231.9L247.0 228.9L247.6 227.4L248.6 225.9L250.8 224.4ZM436.9 228.9L439.6 228.4L442.6 228.6L443.3 228.9L444.0 230.4L442.3 231.9L441.1 232.3L438.1 232.7L436.6 232.5L435.0 231.9L434.8 230.4L436.9 228.9Z" fill="#e54e35" fill-rule="evenodd"/>
<path d="M249.5 225.9L250.6 225.1L252.1 224.7L253.6 224.7L255.1 225.1L256.6 225.8L258.1 227.0L259.6 228.7L260.7 230.4L261.3 231.9L262.0 234.9L262.1 237.9L261.9 239.4L260.7 242.4L259.6 243.8L258.1 244.8L256.6 245.0L255.1 244.8L253.6 244.2L252.1 243.1L250.6 241.6L249.1 239.5L248.3 237.9L247.6 236.2L247.0 233.4L247.1 230.4L247.5 228.9L248.2 227.4L249.5 225.9ZM438.1 230.4L439.6 230.1L440.6 230.4L439.6 230.7L438.1 230.4Z" fill="#e0422f" fill-rule="evenodd"/>
<path d="M250.5 225.9L252.1 225.3L253.6 225.3L255.1 225.7L256.6 226.5L258.1 227.7L259.1 228.9L260.8 231.9L261.5 234.9L261.5 237.9L261.2 239.4L260.7 240.9L259.8 242.4L258.1 243.9L256.6 244.3L255.1 244.1L253.6 243.5L252.1 242.4L250.6 240.9L248.7 237.9L247.6 234.3L247.4 231.9L247.6 230.4L248.1 228.9L248.9 227.4L250.5 225.9Z" fill="#da362a" fill-rule="evenodd"/>
<path d="M252.7 225.9L253.6 225.9L255.1 226.3L256.6 227.1L258.1 228.5L259.5 230.4L260.7 233.4L261.0 236.4L260.6 239.4L259.6 241.5L258.8 242.4L258.1 242.9L256.6 243.5L255.1 243.4L253.6 242.8L252.1 241.7L250.6 240.1L249.2 237.9L248.2 234.9L247.9 231.9L248.6 228.9L249.6 227.4L250.6 226.5L252.1 225.9L252.7 225.9Z" fill="#d22b27" fill-rule="evenodd"/>
<path d="M250.5 227.4L252.1 226.6L253.6 226.5L255.1 226.9L256.6 227.8L257.8 228.9L259.6 231.9L260.4 234.9L260.3 237.9L259.9 239.4L259.1 240.9L258.1 242.0L257.2 242.4L256.6 242.6L255.1 242.6L253.6 242.0L252.1 241.0L250.6 239.3L249.1 236.5L248.6 234.9L248.4 231.9L249.1 229.2L250.5 227.4Z" fill="#c62027" fill-rule="evenodd"/>
<path d="M251.9 227.4L253.6 227.2L255.1 227.6L256.6 228.5L258.2 230.4L259.6 233.4L259.9 236.4L259.6 238.1L259.1 239.4L258.1 240.9L256.6 241.8L255.1 241.8L253.6 241.3L252.1 240.2L250.3 237.9L249.1 234.9L248.9 231.9L249.2 230.4L250.6 228.2L251.9 227.4Z" fill="#bd1726" fill-rule="evenodd"/>
<path d="M250.8 228.9L252.1 228.1L253.6 227.9L255.1 228.3L256.6 229.3L258.4 231.9L259.2 234.9L258.9 237.9L258.1 239.7L256.6 240.9L255.1 241.0L253.6 240.5L252.1 239.4L250.6 237.3L249.7 234.9L249.4 233.4L249.5 231.9L249.9 230.4L250.8 228.9Z" fill="#b30d26" fill-rule="evenodd"/>
<path d="M252.1 228.9L253.6 228.6L255.1 229.0L256.8 230.4L258.1 232.7L258.6 234.9L258.5 236.4L258.1 238.1L256.6 239.8L255.1 240.1L253.6 239.7L252.1 238.4L250.6 236.0L250.0 233.4L250.1 231.9L250.6 230.3L252.1 228.9Z" fill="#a90426" fill-rule="evenodd"/>
<path d="M239.4 198C241.95 197.98 246.82 198.8 250.3 201.4C253.78 204 256.97 208.83 260.3 213.6C263.63 218.37 267.85 224.95 270.3 230C272.75 235.05 274.3 239.52 275 243.9C275.7 248.28 275.37 253.12 274.5 256.3C273.63 259.48 272.22 261.92 269.8 263C267.38 264.08 262.8 263.42 260 262.8C257.2 262.18 255.5 261.43 253 259.3C250.5 257.17 247.05 253.28 245 250C242.95 246.72 242.2 244.27 240.7 239.6C239.2 234.93 237.12 227.43 236 222C234.88 216.57 234.17 210.42 234 207C233.83 203.58 234.1 203 235 201.5C235.9 200 236.85 198.02 239.4 198Z" fill="none" stroke="#000000" stroke-width="4.0" stroke-linejoin="round"/>
<path d="M298 233.3C299.82 231.3 301.65 230.12 304.7 229.7C307.75 229.28 312.13 229.92 316.3 230.8C320.47 231.68 325.25 233.88 329.7 235C334.15 236.12 338.57 236.8 343 237.5C347.43 238.2 352.42 239.45 356.3 239.2C360.18 238.95 362.97 237.28 366.3 236C369.63 234.72 372.97 232.67 376.3 231.5C379.63 230.33 383.52 228.92 386.3 229C389.08 229.08 391.33 230.45 393 232C394.67 233.55 395.33 235.85 396.3 238.3C397.27 240.75 398.8 243.92 398.8 246.7C398.8 249.48 397.82 252.23 396.3 255C394.78 257.77 392.2 260.25 389.7 263.3C387.2 266.35 384.08 270.52 381.3 273.3C378.52 276.08 376.05 278.47 373 280C369.95 281.53 366.62 282.22 363 282.5C359.38 282.78 355.18 281.98 351.3 281.7C347.42 281.42 343.3 280.53 339.7 280.8C336.1 281.07 332.77 282.05 329.7 283.3C326.63 284.55 324.08 286.48 321.3 288.3C318.52 290.12 315.77 292.25 313 294.2C310.23 296.15 307.37 299.03 304.7 300C302.03 300.97 298.67 300.55 297 300C295.33 299.45 295.23 299.2 294.7 296.7C294.17 294.2 293.8 289.17 293.8 285C293.8 280.83 294.83 276.7 294.7 271.7C294.57 266.7 293.15 260 293 255C292.85 250 292.97 245.32 293.8 241.7C294.63 238.08 296.18 235.3 298 233.3Z" fill="none" stroke="#000000" stroke-width="4.0" stroke-linejoin="round"/>
<path d="M413 228.4C414.02 226.18 417.57 223.13 420.9 221.1C424.23 219.07 428.95 217.07 433 216.2C437.05 215.33 441.97 215.6 445.2 215.9C448.43 216.2 450.18 216.63 452.4 218C454.62 219.37 457.18 222.07 458.5 224.1C459.82 226.13 460.7 228.18 460.3 230.2C459.9 232.22 458.22 234.68 456.1 236.2C453.98 237.72 450.83 238.65 447.6 239.3C444.37 239.95 440.13 240.1 436.7 240.1C433.27 240.1 429.83 239.53 427 239.3C424.17 239.07 421.73 239.52 419.7 238.7C417.67 237.88 415.92 236.12 414.8 234.4C413.68 232.68 411.98 230.62 413 228.4Z" fill="none" stroke="#000000" stroke-width="4.0" stroke-linejoin="round"/>
<path d="M239.4 208.2C241.9 208.88 246.9 210.67 250.3 214.3C253.7 217.93 257.3 224.65 259.8 230C262.3 235.35 264.62 240.72 265.3 246.4C265.98 252.08 264.92 260 263.9 264.1C262.88 268.2 261.47 270.2 259.2 271C256.93 271.8 253.38 270.95 250.3 268.9C247.22 266.85 243.43 262.9 240.7 258.7C237.97 254.5 235.6 248.7 233.9 243.7C232.2 238.7 230.9 233.25 230.5 228.7C230.1 224.15 230.7 219.48 231.5 216.4C232.3 213.32 233.98 211.57 235.3 210.2C236.62 208.83 236.9 207.52 239.4 208.2Z" fill="none" stroke="#3d74b2" stroke-width="4.0" stroke-linejoin="round"/>
<path d="M283 230C283.97 226.38 285.5 224.68 288 223.3C290.5 221.92 294.12 221.7 298 221.7C301.88 221.7 306.85 222.2 311.3 223.3C315.75 224.4 319.97 226.77 324.7 228.3C329.43 229.83 334.98 231.93 339.7 232.5C344.42 233.07 348.57 232.82 353 231.7C357.43 230.58 362.42 227.62 366.3 225.8C370.18 223.98 373.23 221.77 376.3 220.8C379.37 219.83 382.62 219.3 384.7 220C386.78 220.7 387.83 222.78 388.8 225C389.77 227.22 389.63 229.63 390.5 233.3C391.37 236.97 393.03 242.55 394 247C394.97 251.45 397.02 257 396.3 260C395.58 263 393.03 263.88 389.7 265C386.37 266.12 381.3 266.15 376.3 266.7C371.3 267.25 365.25 267.75 359.7 268.3C354.15 268.85 348 269.17 343 270C338 270.83 333.58 271.77 329.7 273.3C325.82 274.83 322.77 277.25 319.7 279.2C316.63 281.15 314.37 283.75 311.3 285C308.23 286.25 304.35 286.98 301.3 286.7C298.25 286.42 295.35 285.25 293 283.3C290.65 281.35 288.73 278.6 287.2 275C285.67 271.4 284.63 266.7 283.8 261.7C282.97 256.7 282.33 250.28 282.2 245C282.07 239.72 282.03 233.62 283 230Z" fill="none" stroke="#3d74b2" stroke-width="4.0" stroke-linejoin="round"/>
<path d="M412.4 238.7C412.6 237.48 412.58 235.52 414.2 233.8C415.82 232.08 419.17 229.65 422.1 228.4C425.03 227.15 428.57 226.45 431.8 226.3C435.03 226.15 438.47 226.7 441.5 227.5C444.53 228.3 447.67 229.75 450 231.1C452.33 232.45 454.48 233.83 455.5 235.6C456.52 237.37 456.62 239.77 456.1 241.7C455.58 243.63 454.02 245.68 452.4 247.2C450.78 248.72 449.02 249.9 446.4 250.8C443.78 251.7 439.93 252.7 436.7 252.6C433.47 252.5 430.03 251.42 427 250.2C423.97 248.98 420.83 246.82 418.5 245.3C416.17 243.78 414.02 242.2 413 241.1C411.98 240 412.2 239.92 412.4 238.7Z" fill="none" stroke="#3d74b2" stroke-width="4.0" stroke-linejoin="round"/>
<path d="M240.7 203.4C242.98 203.73 247.33 204.65 250.3 207.5C253.27 210.35 256 215.83 258.5 220.5C261 225.17 263.83 230.95 265.3 235.5C266.77 240.05 267.53 243.93 267.3 247.8C267.07 251.67 265.83 256.2 263.9 258.7C261.97 261.2 258.42 263.03 255.7 262.8C252.98 262.57 250.1 260.48 247.6 257.3C245.1 254.12 242.63 248.7 240.7 243.7C238.77 238.7 237.02 232.53 236 227.3C234.98 222.07 234.5 215.93 234.6 212.3C234.7 208.67 235.58 206.98 236.6 205.5C237.62 204.02 238.42 203.07 240.7 203.4Z" fill="none" stroke="#ee8536" stroke-width="4.0" stroke-linejoin="round"/>
<path d="M298 236.7C301.07 236 305.53 236.82 309.7 237.5C313.87 238.18 318 240.1 323 240.8C328 241.5 334.98 241.83 339.7 241.7C344.42 241.57 347.42 241.25 351.3 240C355.18 238.75 358.83 236.15 363 234.2C367.17 232.25 372.42 229.28 376.3 228.3C380.18 227.32 383.8 227.32 386.3 228.3C388.8 229.28 389.9 231.42 391.3 234.2C392.7 236.98 394.28 241.82 394.7 245C395.12 248.18 395.2 251.08 393.8 253.3C392.4 255.52 389.22 256.48 386.3 258.3C383.38 260.12 378.93 261.97 376.3 264.2C373.67 266.43 371.88 268.78 370.5 271.7C369.12 274.62 369.12 278.65 368 281.7C366.88 284.75 365.75 288.2 363.8 290C361.85 291.8 359.48 292.78 356.3 292.5C353.12 292.22 348.3 289.27 344.7 288.3C341.1 287.33 338.03 286.55 334.7 286.7C331.37 286.85 328.03 287.68 324.7 289.2C321.37 290.72 318.03 293.72 314.7 295.8C311.37 297.88 308.03 300.87 304.7 301.7C301.37 302.53 297.48 301.92 294.7 300.8C291.92 299.68 289.67 297.92 288 295C286.33 292.08 285.25 287.75 284.7 283.3C284.15 278.85 284.28 273.3 284.7 268.3C285.12 263.3 286.1 257.73 287.2 253.3C288.3 248.87 289.5 244.47 291.3 241.7C293.1 238.93 294.93 237.4 298 236.7Z" fill="none" stroke="#ee8536" stroke-width="4.0" stroke-linejoin="round"/>
<path d="M417.3 227.1C418.2 225.88 420.68 223.82 423.3 222.3C425.92 220.78 429.57 218.92 433 218C436.43 217.08 440.67 216.58 443.9 216.8C447.13 217.02 449.87 217.98 452.4 219.3C454.93 220.62 457.58 222.78 459.1 224.7C460.62 226.62 461.6 228.78 461.5 230.8C461.4 232.82 460.42 235.18 458.5 236.8C456.58 238.42 453.23 239.68 450 240.5C446.77 241.32 442.53 241.9 439.1 241.7C435.67 241.5 432.23 240.52 429.4 239.3C426.57 238.08 424.02 236.02 422.1 234.4C420.18 232.78 418.7 230.82 417.9 229.6C417.1 228.38 416.4 228.32 417.3 227.1Z" fill="none" stroke="#ee8536" stroke-width="4.0" stroke-linejoin="round"/>
</g>
<text x="257.4" y="138.6" font-size="22.3" text-anchor="middle" fill="#fff">0.3</text>
<text x="337.6" y="138.6" font-size="22.3" text-anchor="middle" fill="#fff">0.5</text>
<text x="418" y="138.6" font-size="22.3" text-anchor="middle" fill="#fff">0.8</text>
<text x="251.8" y="170.4" font-size="32.5" text-anchor="middle" fill="#fff">O</text>
<text x="337" y="178.5" font-size="32.5" text-anchor="middle" fill="#fff">T</text>
<text x="428" y="169.4" font-size="32.5" text-anchor="middle" fill="#fff">C</text>
<defs><linearGradient id="cbg" x1="0" y1="0" x2="1" y2="0"><stop offset="0.00" stop-color="#313695"/><stop offset="0.05" stop-color="#3a54a4"/><stop offset="0.10" stop-color="#4574b3"/><stop offset="0.15" stop-color="#5c90c2"/><stop offset="0.20" stop-color="#74add1"/><stop offset="0.25" stop-color="#90c3dd"/><stop offset="0.30" stop-color="#aad8e9"/><stop offset="0.35" stop-color="#c5e6f0"/><stop offset="0.40" stop-color="#e0f3f8"/><stop offset="0.45" stop-color="#f0f9db"/><stop offset="0.50" stop-color="#fffebe"/><stop offset="0.55" stop-color="#fff0a8"/><stop offset="0.60" stop-color="#fee090"/><stop offset="0.65" stop-color="#fdc778"/><stop offset="0.70" stop-color="#fdad60"/><stop offset="0.75" stop-color="#f88c51"/><stop offset="0.80" stop-color="#f46d43"/><stop offset="0.85" stop-color="#e54e35"/><stop offset="0.90" stop-color="#d62f27"/><stop offset="0.95" stop-color="#bd1726"/><stop offset="1.00" stop-color="#a50026"/></linearGradient></defs>
<rect x="183.95" y="104.9" width="296.25" height="13.5" fill="url(#cbg)"/>
<path d="M258 104.9V118.4M338.8 104.9V118.4M418.9 104.9V118.4" stroke="#000" stroke-width="3.1" fill="none"/>
<path d="M182 102.4H483V322.7H181.1V109.9H182Z M184.95 105.9V117.4H479.2V105.9Z M186.1 120.9V318.6H479.2V120.9Z" fill="#000" fill-rule="evenodd"/>
<text x="333.3" y="91.3" font-size="28.3" text-anchor="middle" fill="#000" textLength="253.5" lengthAdjust="spacingAndGlyphs">Probability Density</text>
<g transform="translate(162.2,230.3) rotate(-90)"><text x="0" y="0" font-size="30.5" fill="#000" font-style="italic">s<tspan font-size="22" dy="5.2" font-style="normal">2</tspan></text></g>
<text x="318.8" y="358.2" font-size="30.5" fill="#000" font-style="italic">s<tspan font-size="22" dy="5.5" font-style="normal">1</tspan></text>
<text x="109.8" y="563.7" font-size="30.5" text-anchor="end" fill="#000" >0.0</text>
<text x="109.8" y="479.55" font-size="30.5" text-anchor="end" fill="#000" >0.5</text>
<text x="109.8" y="395.4" font-size="30.5" text-anchor="end" fill="#000" >1.0</text>
<text x="109.8" y="311.25" font-size="30.5" text-anchor="end" fill="#000" >1.5</text>
<text x="109.8" y="227.1" font-size="30.5" text-anchor="end" fill="#000" >2.0</text>
<text x="109.8" y="142.95" font-size="30.5" text-anchor="end" fill="#000" >2.5</text>
<text x="109.8" y="58.8" font-size="30.5" text-anchor="end" fill="#000" >3.0</text>
<text x="124" y="603.7" font-size="30.5" text-anchor="middle" fill="#000" >0</text>
<text x="297" y="603.7" font-size="30.5" text-anchor="middle" fill="#000" >100</text>
<text x="470" y="603.7" font-size="30.5" text-anchor="middle" fill="#000" >200</text>
<text x="643" y="603.7" font-size="30.5" text-anchor="middle" fill="#000" >300</text>
<text x="816" y="603.7" font-size="30.5" text-anchor="middle" fill="#000" >400</text>
<text x="496.3" y="646.5" font-size="30.5" text-anchor="middle" fill="#000" >Temperature [K]</text>
<path d="M128.4 21.1L143.3 35.4M143.3 21.1L128.4 35.4" stroke="#000" stroke-width="1.5" fill="none"/>
<text x="147.5" y="36.1" font-size="30.5" text-anchor="start" fill="#000" >10</text>
<text x="181.8" y="24.5" font-size="21.3" text-anchor="start" fill="#000" >3</text>
<text x="210.3" y="407.4" font-size="30.5" text-anchor="middle" fill="#000" >O</text>
<text x="426.9" y="407.1" font-size="30.5" text-anchor="middle" fill="#000" >T</text>
<text x="746.7" y="408" font-size="30.5" text-anchor="middle" fill="#000" >C</text>
<g transform="translate(46,311) rotate(-90)"><text x="0" y="0" font-size="30.5" text-anchor="middle" fill="#000">Dielectric Constant / <tspan font-family='"Liberation Serif", serif' font-style="italic" font-size="31" dx="1.5">&#949;</tspan><tspan font-size="22.5" dy="6.3" dx="1.2">0</tspan></text></g>
</svg>
</body></html>
